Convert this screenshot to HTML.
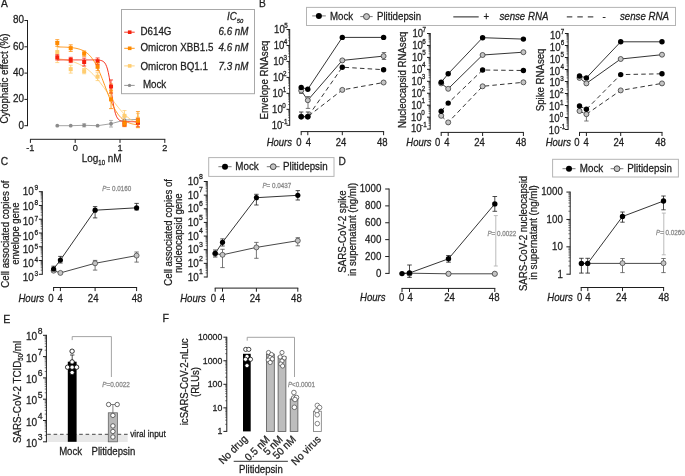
<!DOCTYPE html>
<html><head><meta charset="utf-8"><style>
html,body{margin:0;padding:0;background:#fff;}
svg{display:block;font-family:"Liberation Sans", sans-serif;will-change:transform;}
text{stroke:currentColor;stroke-width:0.25px;}
</style></head><body>
<svg width="685" height="476" viewBox="0 0 685 476">
<rect width="685" height="476" fill="#fff"/>
<text x="1" y="7.2" font-size="10.2" text-anchor="start" fill="#1e1e1e" color="#1e1e1e" transform="translate(1 7.2) scale(1 1.06) translate(-1 -7.2)">A</text>
<rect x="121.5" y="9.5" width="133" height="84.2" fill="none" stroke="#a8a8a8" stroke-width="1"/>
<text x="227" y="19.6" font-size="9.8" text-anchor="start" font-style="italic" fill="#1e1e1e" color="#1e1e1e" transform="translate(227 19.6) scale(1 1.06) translate(-227 -19.6)">IC<tspan font-size="5.8" dy="2.8">50</tspan></text>
<line x1="124.2" y1="32.2" x2="134.7" y2="32.2" stroke="#f5200c" stroke-width="0.9" stroke-linecap="butt"/>
<rect x="127.9" y="30.4" width="3.6" height="3.6" fill="#f5200c" stroke="none" stroke-width="1"/>
<text x="140.5" y="35.5" font-size="9.8" text-anchor="start" fill="#1e1e1e" color="#1e1e1e" transform="translate(140.5 35.5) scale(1 1.06) translate(-140.5 -35.5)">D614G</text>
<text x="248.4" y="35.5" font-size="9.8" text-anchor="end" font-style="italic" fill="#1e1e1e" color="#1e1e1e" transform="translate(248.4 35.5) scale(1 1.06) translate(-248.4 -35.5)">6.6 nM</text>
<line x1="124.2" y1="48.3" x2="134.7" y2="48.3" stroke="#ff8a00" stroke-width="0.9" stroke-linecap="butt"/>
<rect x="127.9" y="46.5" width="3.6" height="3.6" fill="#ff8a00" stroke="none" stroke-width="1"/>
<text x="140.5" y="51.4" font-size="9.8" text-anchor="start" fill="#1e1e1e" color="#1e1e1e" transform="translate(140.5 51.4) scale(1 1.06) translate(-140.5 -51.4)">Omicron XBB1.5</text>
<text x="248.4" y="51.4" font-size="9.8" text-anchor="end" font-style="italic" fill="#1e1e1e" color="#1e1e1e" transform="translate(248.4 51.4) scale(1 1.06) translate(-248.4 -51.4)">4.6 nM</text>
<line x1="124.2" y1="65.9" x2="134.7" y2="65.9" stroke="#ffcd70" stroke-width="0.9" stroke-linecap="butt"/>
<rect x="127.9" y="64.1" width="3.6" height="3.6" fill="#ffcd70" stroke="none" stroke-width="1"/>
<text x="140.5" y="69.6" font-size="9.8" text-anchor="start" fill="#1e1e1e" color="#1e1e1e" transform="translate(140.5 69.6) scale(1 1.06) translate(-140.5 -69.6)">Omicron BQ1.1</text>
<text x="248.4" y="69.6" font-size="9.8" text-anchor="end" font-style="italic" fill="#1e1e1e" color="#1e1e1e" transform="translate(248.4 69.6) scale(1 1.06) translate(-248.4 -69.6)">7.3 nM</text>
<line x1="124.2" y1="85.4" x2="134.7" y2="85.4" stroke="#8c8c8c" stroke-width="0.9" stroke-linecap="butt"/>
<circle cx="129.5" cy="85.4" r="1.7" fill="#8c8c8c" stroke="none" stroke-width="0"/>
<text x="142.9" y="88.3" font-size="9.8" text-anchor="start" fill="#1e1e1e" color="#1e1e1e" transform="translate(142.9 88.3) scale(1 1.06) translate(-142.9 -88.3)">Mock</text>
<line x1="27.5" y1="20" x2="27.5" y2="126.2" stroke="#1e1e1e" stroke-width="1" stroke-linecap="butt"/>
<line x1="24.4" y1="125.7" x2="27.5" y2="125.7" stroke="#1e1e1e" stroke-width="1" stroke-linecap="butt"/>
<text x="23.9" y="128.7" font-size="9.9" text-anchor="end" fill="#1e1e1e" color="#1e1e1e" transform="translate(23.9 128.7) scale(1 1.06) translate(-23.9 -128.7)">0</text>
<line x1="24.4" y1="99.4" x2="27.5" y2="99.4" stroke="#1e1e1e" stroke-width="1" stroke-linecap="butt"/>
<text x="23.9" y="102.4" font-size="9.9" text-anchor="end" fill="#1e1e1e" color="#1e1e1e" transform="translate(23.9 102.4) scale(1 1.06) translate(-23.9 -102.4)">20</text>
<line x1="24.4" y1="73.1" x2="27.5" y2="73.1" stroke="#1e1e1e" stroke-width="1" stroke-linecap="butt"/>
<text x="23.9" y="76.1" font-size="9.9" text-anchor="end" fill="#1e1e1e" color="#1e1e1e" transform="translate(23.9 76.1) scale(1 1.06) translate(-23.9 -76.1)">40</text>
<line x1="24.4" y1="46.8" x2="27.5" y2="46.8" stroke="#1e1e1e" stroke-width="1" stroke-linecap="butt"/>
<text x="23.9" y="49.8" font-size="9.9" text-anchor="end" fill="#1e1e1e" color="#1e1e1e" transform="translate(23.9 49.8) scale(1 1.06) translate(-23.9 -49.8)">60</text>
<line x1="24.4" y1="20.5" x2="27.5" y2="20.5" stroke="#1e1e1e" stroke-width="1" stroke-linecap="butt"/>
<text x="23.9" y="23.5" font-size="9.9" text-anchor="end" fill="#1e1e1e" color="#1e1e1e" transform="translate(23.9 23.5) scale(1 1.06) translate(-23.9 -23.5)">80</text>
<line x1="30" y1="139.3" x2="165.3" y2="139.3" stroke="#1e1e1e" stroke-width="1" stroke-linecap="butt"/>
<line x1="30.4" y1="139.3" x2="30.4" y2="142.9" stroke="#1e1e1e" stroke-width="1" stroke-linecap="butt"/>
<text x="30.4" y="151.3" font-size="9.2" text-anchor="middle" fill="#1e1e1e" color="#1e1e1e" transform="translate(30.4 151.3) scale(1 1.06) translate(-30.4 -151.3)">-1</text>
<line x1="75.2" y1="139.3" x2="75.2" y2="142.9" stroke="#1e1e1e" stroke-width="1" stroke-linecap="butt"/>
<text x="75.2" y="151.3" font-size="9.2" text-anchor="middle" fill="#1e1e1e" color="#1e1e1e" transform="translate(75.2 151.3) scale(1 1.06) translate(-75.2 -151.3)">0</text>
<line x1="120" y1="139.3" x2="120" y2="142.9" stroke="#1e1e1e" stroke-width="1" stroke-linecap="butt"/>
<text x="120" y="151.3" font-size="9.2" text-anchor="middle" fill="#1e1e1e" color="#1e1e1e" transform="translate(120 151.3) scale(1 1.06) translate(-120 -151.3)">1</text>
<line x1="164.8" y1="139.3" x2="164.8" y2="142.9" stroke="#1e1e1e" stroke-width="1" stroke-linecap="butt"/>
<text x="164.8" y="151.3" font-size="9.2" text-anchor="middle" fill="#1e1e1e" color="#1e1e1e" transform="translate(164.8 151.3) scale(1 1.06) translate(-164.8 -151.3)">2</text>
<text x="81.7" y="162" font-size="10" text-anchor="start" fill="#1e1e1e" color="#1e1e1e" transform="translate(81.7 162) scale(1 1.06) translate(-81.7 -162)">Log<tspan font-size="6" dy="3.1">10</tspan><tspan dy="-3.1"> nM</tspan></text>
<text x="7.8" y="78.55" font-size="9.72" text-anchor="middle" fill="#1e1e1e" color="#1e1e1e" transform="rotate(-90 7.8 78.55) translate(7.8 78.55) scale(1 1.06) translate(-7.8 -78.55)">Cytophatic effect (%)</text>
<polyline points="57.28,125.7 70.72,125.7 84.16,125.31 97.6,125.7 111.04,123.73 124.48,120.05 137.92,119.39" fill="none" stroke="#8c8c8c" stroke-width="0.8" stroke-linejoin="round"/>
<line x1="84.16" y1="123.73" x2="84.16" y2="126.88" stroke="#a0a0a0" stroke-width="0.8" stroke-linecap="butt"/>
<line x1="82.16" y1="123.73" x2="86.16" y2="123.73" stroke="#a0a0a0" stroke-width="0.8" stroke-linecap="butt"/>
<line x1="82.16" y1="126.88" x2="86.16" y2="126.88" stroke="#a0a0a0" stroke-width="0.8" stroke-linecap="butt"/>
<line x1="111.04" y1="120.44" x2="111.04" y2="127.02" stroke="#a0a0a0" stroke-width="0.8" stroke-linecap="butt"/>
<line x1="109.04" y1="120.44" x2="113.04" y2="120.44" stroke="#a0a0a0" stroke-width="0.8" stroke-linecap="butt"/>
<line x1="109.04" y1="127.02" x2="113.04" y2="127.02" stroke="#a0a0a0" stroke-width="0.8" stroke-linecap="butt"/>
<line x1="124.48" y1="116.76" x2="124.48" y2="123.33" stroke="#a0a0a0" stroke-width="0.8" stroke-linecap="butt"/>
<line x1="122.48" y1="116.76" x2="126.48" y2="116.76" stroke="#a0a0a0" stroke-width="0.8" stroke-linecap="butt"/>
<line x1="122.48" y1="123.33" x2="126.48" y2="123.33" stroke="#a0a0a0" stroke-width="0.8" stroke-linecap="butt"/>
<line x1="137.92" y1="117.42" x2="137.92" y2="121.36" stroke="#a0a0a0" stroke-width="0.8" stroke-linecap="butt"/>
<line x1="135.92" y1="117.42" x2="139.92" y2="117.42" stroke="#a0a0a0" stroke-width="0.8" stroke-linecap="butt"/>
<line x1="135.92" y1="121.36" x2="139.92" y2="121.36" stroke="#a0a0a0" stroke-width="0.8" stroke-linecap="butt"/>
<circle cx="57.28" cy="125.7" r="1.9" fill="#8c8c8c" stroke="none" stroke-width="0"/>
<circle cx="70.72" cy="125.7" r="1.9" fill="#8c8c8c" stroke="none" stroke-width="0"/>
<circle cx="84.16" cy="125.31" r="1.9" fill="#8c8c8c" stroke="none" stroke-width="0"/>
<circle cx="97.6" cy="125.7" r="1.9" fill="#8c8c8c" stroke="none" stroke-width="0"/>
<circle cx="111.04" cy="123.73" r="1.9" fill="#8c8c8c" stroke="none" stroke-width="0"/>
<circle cx="124.48" cy="120.05" r="1.9" fill="#8c8c8c" stroke="none" stroke-width="0"/>
<circle cx="137.92" cy="119.39" r="1.9" fill="#8c8c8c" stroke="none" stroke-width="0"/>
<polyline points="57.28,58.76 58.18,58.85 59.07,58.95 59.97,59.06 60.86,59.17 61.76,59.29 62.66,59.42 63.55,59.56 64.45,59.71 65.34,59.87 66.24,60.04 67.14,60.22 68.03,60.42 68.93,60.62 69.82,60.84 70.72,61.08 71.62,61.33 72.51,61.59 73.41,61.87 74.3,62.18 75.2,62.5 76.1,62.84 76.99,63.2 77.89,63.58 78.78,63.98 79.68,64.41 80.58,64.87 81.47,65.35 82.37,65.86 83.26,66.4 84.16,66.96 85.06,67.56 85.95,68.18 86.85,68.84 87.74,69.53 88.64,70.26 89.54,71.02 90.43,71.81 91.33,72.64 92.22,73.5 93.12,74.39 94.02,75.32 94.91,76.29 95.81,77.29 96.7,78.32 97.6,79.38 98.5,80.47 99.39,81.59 100.29,82.73 101.18,83.91 102.08,85.1 102.98,86.31 103.87,87.55 104.77,88.79 105.66,90.05 106.56,91.32 107.46,92.6 108.35,93.88 109.25,95.16 110.14,96.43 111.04,97.7 111.94,98.96 112.83,100.21 113.73,101.44 114.62,102.65 115.52,103.85 116.42,105.02 117.31,106.17 118.21,107.29 119.1,108.38 120,109.44 120.9,110.47 121.79,111.47 122.69,112.43 123.58,113.36 124.48,114.26 125.38,115.12 126.27,115.94 127.17,116.74 128.06,117.49 128.96,118.22 129.86,118.91 130.75,119.57 131.65,120.2 132.54,120.79 133.44,121.36 134.34,121.89 135.23,122.4 136.13,122.88 137.02,123.34 137.92,123.77" fill="none" stroke="#ffcd70" stroke-width="0.9" stroke-linejoin="round"/>
<polyline points="57.28,59.91 58.18,59.91 59.07,59.91 59.97,59.91 60.86,59.91 61.76,59.91 62.66,59.91 63.55,59.91 64.45,59.91 65.34,59.91 66.24,59.91 67.14,59.91 68.03,59.91 68.93,59.91 69.82,59.91 70.72,59.91 71.62,59.91 72.51,59.91 73.41,59.91 74.3,59.91 75.2,59.91 76.1,59.91 76.99,59.91 77.89,59.91 78.78,59.91 79.68,59.91 80.58,59.91 81.47,59.91 82.37,59.91 83.26,59.91 84.16,59.91 85.06,59.91 85.95,59.91 86.85,59.91 87.74,59.91 88.64,59.91 89.54,59.91 90.43,59.92 91.33,59.92 92.22,59.92 93.12,59.93 94.02,59.93 94.91,59.95 95.81,59.96 96.7,59.99 97.6,60.03 98.5,60.09 99.39,60.18 100.29,60.32 101.18,60.52 102.08,60.82 102.98,61.27 103.87,61.93 104.77,62.9 105.66,64.3 106.56,66.29 107.46,69.02 108.35,72.67 109.25,77.29 110.14,82.8 111.04,88.92 111.94,95.19 112.83,101.11 113.73,106.29 114.62,110.52 115.52,113.79 116.42,116.2 117.31,117.93 118.21,119.14 119.1,119.98 120,120.54 120.9,120.93 121.79,121.18 122.69,121.36 123.58,121.47 124.48,121.55 125.38,121.6 126.27,121.63 127.17,121.66 128.06,121.67 128.96,121.68 129.86,121.69 130.75,121.69 131.65,121.7 132.54,121.7 133.44,121.7 134.34,121.7 135.23,121.7 136.13,121.7 137.02,121.7 137.92,121.7" fill="none" stroke="#f5200c" stroke-width="0.9" stroke-linejoin="round"/>
<polyline points="57.28,46.92 58.18,46.94 59.07,46.95 59.97,46.97 60.86,47 61.76,47.02 62.66,47.05 63.55,47.08 64.45,47.12 65.34,47.16 66.24,47.2 67.14,47.26 68.03,47.31 68.93,47.38 69.82,47.46 70.72,47.54 71.62,47.63 72.51,47.74 73.41,47.86 74.3,48 75.2,48.15 76.1,48.32 76.99,48.51 77.89,48.73 78.78,48.97 79.68,49.24 80.58,49.54 81.47,49.88 82.37,50.27 83.26,50.69 84.16,51.17 85.06,51.7 85.95,52.29 86.85,52.94 87.74,53.67 88.64,54.47 89.54,55.35 90.43,56.32 91.33,57.39 92.22,58.55 93.12,59.82 94.02,61.2 94.91,62.69 95.81,64.29 96.7,66 97.6,67.82 98.5,69.75 99.39,71.78 100.29,73.9 101.18,76.1 102.08,78.38 102.98,80.71 103.87,83.08 104.77,85.48 105.66,87.88 106.56,90.27 107.46,92.63 108.35,94.94 109.25,97.2 110.14,99.38 111.04,101.47 111.94,103.47 112.83,105.37 113.73,107.16 114.62,108.84 115.52,110.4 116.42,111.86 117.31,113.2 118.21,114.44 119.1,115.57 120,116.61 120.9,117.56 121.79,118.41 122.69,119.19 123.58,119.89 124.48,120.53 125.38,121.1 126.27,121.61 127.17,122.07 128.06,122.48 128.96,122.85 129.86,123.18 130.75,123.48 131.65,123.74 132.54,123.97 133.44,124.18 134.34,124.37 135.23,124.53 136.13,124.68 137.02,124.81 137.92,124.92" fill="none" stroke="#ff8a00" stroke-width="0.9" stroke-linejoin="round"/>
<line x1="57.28" y1="41.54" x2="57.28" y2="62.58" stroke="#ffcd70" stroke-width="0.8" stroke-linecap="butt"/>
<line x1="55.28" y1="41.54" x2="59.28" y2="41.54" stroke="#ffcd70" stroke-width="0.8" stroke-linecap="butt"/>
<line x1="55.28" y1="62.58" x2="59.28" y2="62.58" stroke="#ffcd70" stroke-width="0.8" stroke-linecap="butt"/>
<rect x="55.28" y="50.06" width="4" height="4" fill="#ffcd70" stroke="none" stroke-width="1"/>
<line x1="70.72" y1="65.21" x2="70.72" y2="73.1" stroke="#ffcd70" stroke-width="0.8" stroke-linecap="butt"/>
<line x1="68.72" y1="65.21" x2="72.72" y2="65.21" stroke="#ffcd70" stroke-width="0.8" stroke-linecap="butt"/>
<line x1="68.72" y1="73.1" x2="72.72" y2="73.1" stroke="#ffcd70" stroke-width="0.8" stroke-linecap="butt"/>
<rect x="68.72" y="67.16" width="4" height="4" fill="#ffcd70" stroke="none" stroke-width="1"/>
<line x1="84.16" y1="68.5" x2="84.16" y2="73.76" stroke="#ffcd70" stroke-width="0.8" stroke-linecap="butt"/>
<line x1="82.16" y1="68.5" x2="86.16" y2="68.5" stroke="#ffcd70" stroke-width="0.8" stroke-linecap="butt"/>
<line x1="82.16" y1="73.76" x2="86.16" y2="73.76" stroke="#ffcd70" stroke-width="0.8" stroke-linecap="butt"/>
<rect x="82.16" y="69.13" width="4" height="4" fill="#ffcd70" stroke="none" stroke-width="1"/>
<line x1="97.6" y1="72.71" x2="97.6" y2="80.6" stroke="#ffcd70" stroke-width="0.8" stroke-linecap="butt"/>
<line x1="95.6" y1="72.71" x2="99.6" y2="72.71" stroke="#ffcd70" stroke-width="0.8" stroke-linecap="butt"/>
<line x1="95.6" y1="80.6" x2="99.6" y2="80.6" stroke="#ffcd70" stroke-width="0.8" stroke-linecap="butt"/>
<rect x="95.6" y="74.65" width="4" height="4" fill="#ffcd70" stroke="none" stroke-width="1"/>
<line x1="111.04" y1="83.62" x2="111.04" y2="99.4" stroke="#ffcd70" stroke-width="0.8" stroke-linecap="butt"/>
<line x1="109.04" y1="83.62" x2="113.04" y2="83.62" stroke="#ffcd70" stroke-width="0.8" stroke-linecap="butt"/>
<line x1="109.04" y1="99.4" x2="113.04" y2="99.4" stroke="#ffcd70" stroke-width="0.8" stroke-linecap="butt"/>
<rect x="109.04" y="89.51" width="4" height="4" fill="#ffcd70" stroke="none" stroke-width="1"/>
<line x1="124.48" y1="110.58" x2="124.48" y2="121.1" stroke="#ffcd70" stroke-width="0.8" stroke-linecap="butt"/>
<line x1="122.48" y1="110.58" x2="126.48" y2="110.58" stroke="#ffcd70" stroke-width="0.8" stroke-linecap="butt"/>
<line x1="122.48" y1="121.1" x2="126.48" y2="121.1" stroke="#ffcd70" stroke-width="0.8" stroke-linecap="butt"/>
<rect x="122.48" y="113.84" width="4" height="4" fill="#ffcd70" stroke="none" stroke-width="1"/>
<line x1="137.92" y1="113.6" x2="137.92" y2="124.12" stroke="#ffcd70" stroke-width="0.8" stroke-linecap="butt"/>
<line x1="135.92" y1="113.6" x2="139.92" y2="113.6" stroke="#ffcd70" stroke-width="0.8" stroke-linecap="butt"/>
<line x1="135.92" y1="124.12" x2="139.92" y2="124.12" stroke="#ffcd70" stroke-width="0.8" stroke-linecap="butt"/>
<rect x="135.92" y="116.86" width="4" height="4" fill="#ffcd70" stroke="none" stroke-width="1"/>
<line x1="57.28" y1="54.69" x2="57.28" y2="59.95" stroke="#f5200c" stroke-width="0.8" stroke-linecap="butt"/>
<line x1="55.28" y1="54.69" x2="59.28" y2="54.69" stroke="#f5200c" stroke-width="0.8" stroke-linecap="butt"/>
<line x1="55.28" y1="59.95" x2="59.28" y2="59.95" stroke="#f5200c" stroke-width="0.8" stroke-linecap="butt"/>
<rect x="55.28" y="55.32" width="4" height="4" fill="#f5200c" stroke="none" stroke-width="1"/>
<line x1="70.72" y1="57.32" x2="70.72" y2="62.58" stroke="#f5200c" stroke-width="0.8" stroke-linecap="butt"/>
<line x1="68.72" y1="57.32" x2="72.72" y2="57.32" stroke="#f5200c" stroke-width="0.8" stroke-linecap="butt"/>
<line x1="68.72" y1="62.58" x2="72.72" y2="62.58" stroke="#f5200c" stroke-width="0.8" stroke-linecap="butt"/>
<rect x="68.72" y="57.95" width="4" height="4" fill="#f5200c" stroke="none" stroke-width="1"/>
<line x1="84.16" y1="58.11" x2="84.16" y2="66" stroke="#f5200c" stroke-width="0.8" stroke-linecap="butt"/>
<line x1="82.16" y1="58.11" x2="86.16" y2="58.11" stroke="#f5200c" stroke-width="0.8" stroke-linecap="butt"/>
<line x1="82.16" y1="66" x2="86.16" y2="66" stroke="#f5200c" stroke-width="0.8" stroke-linecap="butt"/>
<rect x="82.16" y="60.05" width="4" height="4" fill="#f5200c" stroke="none" stroke-width="1"/>
<line x1="97.6" y1="57.98" x2="97.6" y2="64.55" stroke="#f5200c" stroke-width="0.8" stroke-linecap="butt"/>
<line x1="95.6" y1="57.98" x2="99.6" y2="57.98" stroke="#f5200c" stroke-width="0.8" stroke-linecap="butt"/>
<line x1="95.6" y1="64.55" x2="99.6" y2="64.55" stroke="#f5200c" stroke-width="0.8" stroke-linecap="butt"/>
<rect x="95.6" y="59.27" width="4" height="4" fill="#f5200c" stroke="none" stroke-width="1"/>
<line x1="111.04" y1="79.94" x2="111.04" y2="93.09" stroke="#f5200c" stroke-width="0.8" stroke-linecap="butt"/>
<line x1="109.04" y1="79.94" x2="113.04" y2="79.94" stroke="#f5200c" stroke-width="0.8" stroke-linecap="butt"/>
<line x1="109.04" y1="93.09" x2="113.04" y2="93.09" stroke="#f5200c" stroke-width="0.8" stroke-linecap="butt"/>
<rect x="109.04" y="84.51" width="4" height="4" fill="#f5200c" stroke="none" stroke-width="1"/>
<line x1="124.48" y1="121.36" x2="124.48" y2="126.62" stroke="#f5200c" stroke-width="0.8" stroke-linecap="butt"/>
<line x1="122.48" y1="121.36" x2="126.48" y2="121.36" stroke="#f5200c" stroke-width="0.8" stroke-linecap="butt"/>
<line x1="122.48" y1="126.62" x2="126.48" y2="126.62" stroke="#f5200c" stroke-width="0.8" stroke-linecap="butt"/>
<rect x="122.48" y="121.99" width="4" height="4" fill="#f5200c" stroke="none" stroke-width="1"/>
<line x1="137.92" y1="118.86" x2="137.92" y2="126.75" stroke="#f5200c" stroke-width="0.8" stroke-linecap="butt"/>
<line x1="135.92" y1="118.86" x2="139.92" y2="118.86" stroke="#f5200c" stroke-width="0.8" stroke-linecap="butt"/>
<line x1="135.92" y1="126.75" x2="139.92" y2="126.75" stroke="#f5200c" stroke-width="0.8" stroke-linecap="butt"/>
<rect x="135.92" y="120.81" width="4" height="4" fill="#f5200c" stroke="none" stroke-width="1"/>
<line x1="57.28" y1="39.7" x2="57.28" y2="46.27" stroke="#ff8a00" stroke-width="0.8" stroke-linecap="butt"/>
<line x1="55.28" y1="39.7" x2="59.28" y2="39.7" stroke="#ff8a00" stroke-width="0.8" stroke-linecap="butt"/>
<line x1="55.28" y1="46.27" x2="59.28" y2="46.27" stroke="#ff8a00" stroke-width="0.8" stroke-linecap="butt"/>
<rect x="55.28" y="40.99" width="4" height="4" fill="#ff8a00" stroke="none" stroke-width="1"/>
<line x1="70.72" y1="44.83" x2="70.72" y2="51.4" stroke="#ff8a00" stroke-width="0.8" stroke-linecap="butt"/>
<line x1="68.72" y1="44.83" x2="72.72" y2="44.83" stroke="#ff8a00" stroke-width="0.8" stroke-linecap="butt"/>
<line x1="68.72" y1="51.4" x2="72.72" y2="51.4" stroke="#ff8a00" stroke-width="0.8" stroke-linecap="butt"/>
<rect x="68.72" y="46.12" width="4" height="4" fill="#ff8a00" stroke="none" stroke-width="1"/>
<line x1="84.16" y1="51.01" x2="84.16" y2="56.27" stroke="#ff8a00" stroke-width="0.8" stroke-linecap="butt"/>
<line x1="82.16" y1="51.01" x2="86.16" y2="51.01" stroke="#ff8a00" stroke-width="0.8" stroke-linecap="butt"/>
<line x1="82.16" y1="56.27" x2="86.16" y2="56.27" stroke="#ff8a00" stroke-width="0.8" stroke-linecap="butt"/>
<rect x="82.16" y="51.64" width="4" height="4" fill="#ff8a00" stroke="none" stroke-width="1"/>
<line x1="97.6" y1="62.84" x2="97.6" y2="70.73" stroke="#ff8a00" stroke-width="0.8" stroke-linecap="butt"/>
<line x1="95.6" y1="62.84" x2="99.6" y2="62.84" stroke="#ff8a00" stroke-width="0.8" stroke-linecap="butt"/>
<line x1="95.6" y1="70.73" x2="99.6" y2="70.73" stroke="#ff8a00" stroke-width="0.8" stroke-linecap="butt"/>
<rect x="95.6" y="64.79" width="4" height="4" fill="#ff8a00" stroke="none" stroke-width="1"/>
<line x1="111.04" y1="90.2" x2="111.04" y2="108.61" stroke="#ff8a00" stroke-width="0.8" stroke-linecap="butt"/>
<line x1="109.04" y1="90.2" x2="113.04" y2="90.2" stroke="#ff8a00" stroke-width="0.8" stroke-linecap="butt"/>
<line x1="109.04" y1="108.61" x2="113.04" y2="108.61" stroke="#ff8a00" stroke-width="0.8" stroke-linecap="butt"/>
<rect x="109.04" y="97.4" width="4" height="4" fill="#ff8a00" stroke="none" stroke-width="1"/>
<line x1="124.48" y1="121.1" x2="124.48" y2="126.36" stroke="#ff8a00" stroke-width="0.8" stroke-linecap="butt"/>
<line x1="122.48" y1="121.1" x2="126.48" y2="121.1" stroke="#ff8a00" stroke-width="0.8" stroke-linecap="butt"/>
<line x1="122.48" y1="126.36" x2="126.48" y2="126.36" stroke="#ff8a00" stroke-width="0.8" stroke-linecap="butt"/>
<rect x="122.48" y="121.73" width="4" height="4" fill="#ff8a00" stroke="none" stroke-width="1"/>
<line x1="137.92" y1="111.63" x2="137.92" y2="127.67" stroke="#ff8a00" stroke-width="0.8" stroke-linecap="butt"/>
<line x1="135.92" y1="111.63" x2="139.92" y2="111.63" stroke="#ff8a00" stroke-width="0.8" stroke-linecap="butt"/>
<line x1="135.92" y1="127.67" x2="139.92" y2="127.67" stroke="#ff8a00" stroke-width="0.8" stroke-linecap="butt"/>
<rect x="135.92" y="118.83" width="4" height="4" fill="#ff8a00" stroke="none" stroke-width="1"/>
<text x="259" y="7.1" font-size="10.2" text-anchor="start" fill="#1e1e1e" color="#1e1e1e" transform="translate(259 7.1) scale(1 1.06) translate(-259 -7.1)">B</text>
<rect x="306.5" y="7.4" width="369" height="18.1" fill="none" stroke="#b4b4b4" stroke-width="1"/>
<line x1="312.2" y1="15.9" x2="325.8" y2="15.9" stroke="#555" stroke-width="0.8" stroke-linecap="butt"/>
<circle cx="318.9" cy="15.9" r="3" fill="#000" stroke="#000" stroke-width="0"/>
<text x="330" y="19.6" font-size="9.7" text-anchor="start" fill="#1e1e1e" color="#1e1e1e" transform="translate(330 19.6) scale(1 1.06) translate(-330 -19.6)">Mock</text>
<line x1="360.3" y1="16.6" x2="372.7" y2="16.6" stroke="#555" stroke-width="0.8" stroke-linecap="butt"/>
<circle cx="366.5" cy="16.6" r="3" fill="#c4c4c4" stroke="#3a3a3a" stroke-width="0.9"/>
<text x="377" y="19.6" font-size="9.7" text-anchor="start" fill="#1e1e1e" color="#1e1e1e" transform="translate(377 19.6) scale(1 1.06) translate(-377 -19.6)">Plitidepsin</text>
<line x1="453.3" y1="16.9" x2="478.7" y2="16.9" stroke="#1e1e1e" stroke-width="1" stroke-linecap="butt"/>
<text x="486.2" y="19.8" font-size="9.6" text-anchor="middle" fill="#1e1e1e" color="#1e1e1e" transform="translate(486.2 19.8) scale(1 1.06) translate(-486.2 -19.8)">+</text>
<text x="499.4" y="19.8" font-size="9.7" text-anchor="start" font-style="italic" fill="#1e1e1e" color="#1e1e1e" transform="translate(499.4 19.8) scale(1 1.06) translate(-499.4 -19.8)">sense RNA</text>
<line x1="566.8" y1="16.9" x2="595.2" y2="16.9" stroke="#1e1e1e" stroke-width="1" stroke-dasharray="5.5,5" stroke-linecap="butt"/>
<text x="604.1" y="19.8" font-size="9.6" text-anchor="middle" fill="#1e1e1e" color="#1e1e1e" transform="translate(604.1 19.8) scale(1 1.06) translate(-604.1 -19.8)">-</text>
<text x="620" y="19.8" font-size="9.7" text-anchor="start" font-style="italic" fill="#1e1e1e" color="#1e1e1e" transform="translate(620 19.8) scale(1 1.06) translate(-620 -19.8)">sense RNA</text>
<line x1="289.7" y1="29" x2="289.7" y2="125.8" stroke="#1e1e1e" stroke-width="1" stroke-linecap="butt"/>
<line x1="286.5" y1="29.5" x2="289.7" y2="29.5" stroke="#1e1e1e" stroke-width="1" stroke-linecap="butt"/>
<text x="274.1" y="33.5" font-size="9.6" text-anchor="start" fill="#1e1e1e" color="#1e1e1e" transform="translate(274.1 33.5) scale(1 1.06) translate(-274.1 -33.5)">10<tspan dx="-0.5" dy="-5.0" font-size="6.3">5</tspan></text>
<line x1="288.1" y1="40.66" x2="289.7" y2="40.66" stroke="#1e1e1e" stroke-width="0.6" stroke-linecap="butt"/>
<line x1="288.1" y1="37.85" x2="289.7" y2="37.85" stroke="#1e1e1e" stroke-width="0.6" stroke-linecap="butt"/>
<line x1="288.1" y1="35.85" x2="289.7" y2="35.85" stroke="#1e1e1e" stroke-width="0.6" stroke-linecap="butt"/>
<line x1="288.1" y1="34.31" x2="289.7" y2="34.31" stroke="#1e1e1e" stroke-width="0.6" stroke-linecap="butt"/>
<line x1="288.1" y1="33.04" x2="289.7" y2="33.04" stroke="#1e1e1e" stroke-width="0.6" stroke-linecap="butt"/>
<line x1="288.1" y1="31.97" x2="289.7" y2="31.97" stroke="#1e1e1e" stroke-width="0.6" stroke-linecap="butt"/>
<line x1="288.1" y1="31.05" x2="289.7" y2="31.05" stroke="#1e1e1e" stroke-width="0.6" stroke-linecap="butt"/>
<line x1="288.1" y1="30.23" x2="289.7" y2="30.23" stroke="#1e1e1e" stroke-width="0.6" stroke-linecap="butt"/>
<line x1="286.5" y1="45.47" x2="289.7" y2="45.47" stroke="#1e1e1e" stroke-width="1" stroke-linecap="butt"/>
<text x="273.7" y="49.47" font-size="9.6" text-anchor="start" fill="#1e1e1e" color="#1e1e1e" transform="translate(273.7 49.47) scale(1 1.06) translate(-273.7 -49.47)">10<tspan dx="-0.5" dy="-5.0" font-size="6.3">4</tspan></text>
<line x1="288.1" y1="56.63" x2="289.7" y2="56.63" stroke="#1e1e1e" stroke-width="0.6" stroke-linecap="butt"/>
<line x1="288.1" y1="53.82" x2="289.7" y2="53.82" stroke="#1e1e1e" stroke-width="0.6" stroke-linecap="butt"/>
<line x1="288.1" y1="51.82" x2="289.7" y2="51.82" stroke="#1e1e1e" stroke-width="0.6" stroke-linecap="butt"/>
<line x1="288.1" y1="50.27" x2="289.7" y2="50.27" stroke="#1e1e1e" stroke-width="0.6" stroke-linecap="butt"/>
<line x1="288.1" y1="49.01" x2="289.7" y2="49.01" stroke="#1e1e1e" stroke-width="0.6" stroke-linecap="butt"/>
<line x1="288.1" y1="47.94" x2="289.7" y2="47.94" stroke="#1e1e1e" stroke-width="0.6" stroke-linecap="butt"/>
<line x1="288.1" y1="47.01" x2="289.7" y2="47.01" stroke="#1e1e1e" stroke-width="0.6" stroke-linecap="butt"/>
<line x1="288.1" y1="46.2" x2="289.7" y2="46.2" stroke="#1e1e1e" stroke-width="0.6" stroke-linecap="butt"/>
<line x1="286.5" y1="61.43" x2="289.7" y2="61.43" stroke="#1e1e1e" stroke-width="1" stroke-linecap="butt"/>
<text x="273.3" y="65.43" font-size="9.6" text-anchor="start" fill="#1e1e1e" color="#1e1e1e" transform="translate(273.3 65.43) scale(1 1.06) translate(-273.3 -65.43)">10<tspan dx="-0.5" dy="-5.0" font-size="6.3">3</tspan></text>
<line x1="288.1" y1="72.59" x2="289.7" y2="72.59" stroke="#1e1e1e" stroke-width="0.6" stroke-linecap="butt"/>
<line x1="288.1" y1="69.78" x2="289.7" y2="69.78" stroke="#1e1e1e" stroke-width="0.6" stroke-linecap="butt"/>
<line x1="288.1" y1="67.79" x2="289.7" y2="67.79" stroke="#1e1e1e" stroke-width="0.6" stroke-linecap="butt"/>
<line x1="288.1" y1="66.24" x2="289.7" y2="66.24" stroke="#1e1e1e" stroke-width="0.6" stroke-linecap="butt"/>
<line x1="288.1" y1="64.98" x2="289.7" y2="64.98" stroke="#1e1e1e" stroke-width="0.6" stroke-linecap="butt"/>
<line x1="288.1" y1="63.91" x2="289.7" y2="63.91" stroke="#1e1e1e" stroke-width="0.6" stroke-linecap="butt"/>
<line x1="288.1" y1="62.98" x2="289.7" y2="62.98" stroke="#1e1e1e" stroke-width="0.6" stroke-linecap="butt"/>
<line x1="288.1" y1="62.16" x2="289.7" y2="62.16" stroke="#1e1e1e" stroke-width="0.6" stroke-linecap="butt"/>
<line x1="286.5" y1="77.4" x2="289.7" y2="77.4" stroke="#1e1e1e" stroke-width="1" stroke-linecap="butt"/>
<text x="272.9" y="81.4" font-size="9.6" text-anchor="start" fill="#1e1e1e" color="#1e1e1e" transform="translate(272.9 81.4) scale(1 1.06) translate(-272.9 -81.4)">10<tspan dx="-0.5" dy="-5.0" font-size="6.3">2</tspan></text>
<line x1="288.1" y1="88.56" x2="289.7" y2="88.56" stroke="#1e1e1e" stroke-width="0.6" stroke-linecap="butt"/>
<line x1="288.1" y1="85.75" x2="289.7" y2="85.75" stroke="#1e1e1e" stroke-width="0.6" stroke-linecap="butt"/>
<line x1="288.1" y1="83.75" x2="289.7" y2="83.75" stroke="#1e1e1e" stroke-width="0.6" stroke-linecap="butt"/>
<line x1="288.1" y1="82.21" x2="289.7" y2="82.21" stroke="#1e1e1e" stroke-width="0.6" stroke-linecap="butt"/>
<line x1="288.1" y1="80.94" x2="289.7" y2="80.94" stroke="#1e1e1e" stroke-width="0.6" stroke-linecap="butt"/>
<line x1="288.1" y1="79.87" x2="289.7" y2="79.87" stroke="#1e1e1e" stroke-width="0.6" stroke-linecap="butt"/>
<line x1="288.1" y1="78.95" x2="289.7" y2="78.95" stroke="#1e1e1e" stroke-width="0.6" stroke-linecap="butt"/>
<line x1="288.1" y1="78.13" x2="289.7" y2="78.13" stroke="#1e1e1e" stroke-width="0.6" stroke-linecap="butt"/>
<line x1="286.5" y1="93.37" x2="289.7" y2="93.37" stroke="#1e1e1e" stroke-width="1" stroke-linecap="butt"/>
<text x="272.5" y="97.37" font-size="9.6" text-anchor="start" fill="#1e1e1e" color="#1e1e1e" transform="translate(272.5 97.37) scale(1 1.06) translate(-272.5 -97.37)">10<tspan dx="-0.5" dy="-5.0" font-size="6.3">1</tspan></text>
<line x1="288.1" y1="104.53" x2="289.7" y2="104.53" stroke="#1e1e1e" stroke-width="0.6" stroke-linecap="butt"/>
<line x1="288.1" y1="101.72" x2="289.7" y2="101.72" stroke="#1e1e1e" stroke-width="0.6" stroke-linecap="butt"/>
<line x1="288.1" y1="99.72" x2="289.7" y2="99.72" stroke="#1e1e1e" stroke-width="0.6" stroke-linecap="butt"/>
<line x1="288.1" y1="98.17" x2="289.7" y2="98.17" stroke="#1e1e1e" stroke-width="0.6" stroke-linecap="butt"/>
<line x1="288.1" y1="96.91" x2="289.7" y2="96.91" stroke="#1e1e1e" stroke-width="0.6" stroke-linecap="butt"/>
<line x1="288.1" y1="95.84" x2="289.7" y2="95.84" stroke="#1e1e1e" stroke-width="0.6" stroke-linecap="butt"/>
<line x1="288.1" y1="94.91" x2="289.7" y2="94.91" stroke="#1e1e1e" stroke-width="0.6" stroke-linecap="butt"/>
<line x1="288.1" y1="94.1" x2="289.7" y2="94.1" stroke="#1e1e1e" stroke-width="0.6" stroke-linecap="butt"/>
<line x1="286.5" y1="109.33" x2="289.7" y2="109.33" stroke="#1e1e1e" stroke-width="1" stroke-linecap="butt"/>
<text x="272.1" y="113.43" font-size="9.6" text-anchor="start" fill="#1e1e1e" color="#1e1e1e" transform="translate(272.1 113.43) scale(1 1.06) translate(-272.1 -113.43)">10<tspan dx="-0.5" dy="-5.0" font-size="6.3">0</tspan></text>
<line x1="288.1" y1="120.49" x2="289.7" y2="120.49" stroke="#1e1e1e" stroke-width="0.6" stroke-linecap="butt"/>
<line x1="288.1" y1="117.68" x2="289.7" y2="117.68" stroke="#1e1e1e" stroke-width="0.6" stroke-linecap="butt"/>
<line x1="288.1" y1="115.69" x2="289.7" y2="115.69" stroke="#1e1e1e" stroke-width="0.6" stroke-linecap="butt"/>
<line x1="288.1" y1="114.14" x2="289.7" y2="114.14" stroke="#1e1e1e" stroke-width="0.6" stroke-linecap="butt"/>
<line x1="288.1" y1="112.88" x2="289.7" y2="112.88" stroke="#1e1e1e" stroke-width="0.6" stroke-linecap="butt"/>
<line x1="288.1" y1="111.81" x2="289.7" y2="111.81" stroke="#1e1e1e" stroke-width="0.6" stroke-linecap="butt"/>
<line x1="288.1" y1="110.88" x2="289.7" y2="110.88" stroke="#1e1e1e" stroke-width="0.6" stroke-linecap="butt"/>
<line x1="288.1" y1="110.06" x2="289.7" y2="110.06" stroke="#1e1e1e" stroke-width="0.6" stroke-linecap="butt"/>
<line x1="286.5" y1="125.3" x2="289.7" y2="125.3" stroke="#1e1e1e" stroke-width="1" stroke-linecap="butt"/>
<text x="271.7" y="129.4" font-size="9.6" text-anchor="start" fill="#1e1e1e" color="#1e1e1e" transform="translate(271.7 129.4) scale(1 1.06) translate(-271.7 -129.4)">10<tspan dx="-0.5" dy="-5.0" font-size="6.3">-1</tspan></text>
<line x1="300.7" y1="131.6" x2="384.1" y2="131.6" stroke="#1e1e1e" stroke-width="1" stroke-linecap="butt"/>
<line x1="301.2" y1="131.6" x2="301.2" y2="135.2" stroke="#1e1e1e" stroke-width="1" stroke-linecap="butt"/>
<line x1="307.8" y1="131.6" x2="307.8" y2="135.2" stroke="#1e1e1e" stroke-width="1" stroke-linecap="butt"/>
<line x1="342.3" y1="131.6" x2="342.3" y2="135.2" stroke="#1e1e1e" stroke-width="1" stroke-linecap="butt"/>
<line x1="383.6" y1="131.6" x2="383.6" y2="135.2" stroke="#1e1e1e" stroke-width="1" stroke-linecap="butt"/>
<text x="299" y="146.4" font-size="9.5" text-anchor="middle" fill="#1e1e1e" color="#1e1e1e" transform="translate(299 146.4) scale(1 1.06) translate(-299 -146.4)">0</text>
<text x="308.5" y="146.4" font-size="9.5" text-anchor="middle" fill="#1e1e1e" color="#1e1e1e" transform="translate(308.5 146.4) scale(1 1.06) translate(-308.5 -146.4)">4</text>
<text x="341.1" y="146.4" font-size="9.5" text-anchor="middle" fill="#1e1e1e" color="#1e1e1e" transform="translate(341.1 146.4) scale(1 1.06) translate(-341.1 -146.4)">24</text>
<text x="382.2" y="146.4" font-size="9.5" text-anchor="middle" fill="#1e1e1e" color="#1e1e1e" transform="translate(382.2 146.4) scale(1 1.06) translate(-382.2 -146.4)">48</text>
<text x="292" y="146.4" font-size="9.5" text-anchor="end" font-style="italic" fill="#1e1e1e" color="#1e1e1e" transform="translate(292 146.4) scale(1 1.06) translate(-292 -146.4)">Hours</text>
<text x="268.3" y="80" font-size="9.65" text-anchor="middle" fill="#1e1e1e" color="#1e1e1e" transform="rotate(-90 268.3 80) translate(268.3 80) scale(1 1.06) translate(-268.3 -80)">Envelope RNAseq</text>
<polyline points="301.2,116.6 307.8,116.6 342.3,89.9 383.6,82.5" fill="none" stroke="#2a2a2a" stroke-width="0.95" stroke-dasharray="4.5,3.2" stroke-linejoin="round"/>
<polyline points="301.2,90.6 307.8,100.2 342.3,60.4 383.6,56.1" fill="none" stroke="#2a2a2a" stroke-width="0.95" stroke-linejoin="round"/>
<polyline points="301.2,116.8 307.8,116.8 342.3,67.2 383.6,69.7" fill="none" stroke="#2a2a2a" stroke-width="0.95" stroke-dasharray="4.5,3.2" stroke-linejoin="round"/>
<polyline points="301.2,87.4 307.8,89.2 342.3,37.4 383.6,37.4" fill="none" stroke="#2a2a2a" stroke-width="0.95" stroke-linejoin="round"/>
<line x1="301.2" y1="93.4" x2="301.2" y2="89" stroke="#444" stroke-width="0.8" stroke-linecap="butt"/>
<line x1="299" y1="93.4" x2="303.4" y2="93.4" stroke="#444" stroke-width="0.8" stroke-linecap="butt"/>
<line x1="299" y1="89" x2="303.4" y2="89" stroke="#444" stroke-width="0.8" stroke-linecap="butt"/>
<line x1="308" y1="96.5" x2="308" y2="108.4" stroke="#555" stroke-width="0.8" stroke-linecap="butt"/>
<line x1="305.8" y1="96.5" x2="310.2" y2="96.5" stroke="#555" stroke-width="0.8" stroke-linecap="butt"/>
<line x1="305.8" y1="108.4" x2="310.2" y2="108.4" stroke="#555" stroke-width="0.8" stroke-linecap="butt"/>
<line x1="301.2" y1="112" x2="301.2" y2="116" stroke="#1e1e1e" stroke-width="0.8" stroke-linecap="butt"/>
<line x1="299" y1="112" x2="303.4" y2="112" stroke="#1e1e1e" stroke-width="0.8" stroke-linecap="butt"/>
<line x1="299" y1="116" x2="303.4" y2="116" stroke="#1e1e1e" stroke-width="0.8" stroke-linecap="butt"/>
<line x1="308" y1="112" x2="308" y2="116" stroke="#1e1e1e" stroke-width="0.8" stroke-linecap="butt"/>
<line x1="305.8" y1="112" x2="310.2" y2="112" stroke="#1e1e1e" stroke-width="0.8" stroke-linecap="butt"/>
<line x1="305.8" y1="116" x2="310.2" y2="116" stroke="#1e1e1e" stroke-width="0.8" stroke-linecap="butt"/>
<line x1="384" y1="52.5" x2="384" y2="59.5" stroke="#555" stroke-width="0.8" stroke-linecap="butt"/>
<line x1="381.8" y1="52.5" x2="386.2" y2="52.5" stroke="#555" stroke-width="0.8" stroke-linecap="butt"/>
<line x1="381.8" y1="59.5" x2="386.2" y2="59.5" stroke="#555" stroke-width="0.8" stroke-linecap="butt"/>
<circle cx="301.2" cy="116.6" r="2.5" fill="#c4c4c4" stroke="#3a3a3a" stroke-width="0.8"/>
<circle cx="307.8" cy="116.6" r="2.5" fill="#c4c4c4" stroke="#3a3a3a" stroke-width="0.8"/>
<circle cx="342.3" cy="89.9" r="2.5" fill="#c4c4c4" stroke="#3a3a3a" stroke-width="0.8"/>
<circle cx="383.6" cy="82.5" r="2.5" fill="#c4c4c4" stroke="#3a3a3a" stroke-width="0.8"/>
<circle cx="301.2" cy="90.6" r="2.5" fill="#c4c4c4" stroke="#3a3a3a" stroke-width="0.8"/>
<circle cx="307.8" cy="100.2" r="2.5" fill="#c4c4c4" stroke="#3a3a3a" stroke-width="0.8"/>
<circle cx="342.3" cy="60.4" r="2.5" fill="#c4c4c4" stroke="#3a3a3a" stroke-width="0.8"/>
<circle cx="383.6" cy="56.1" r="2.5" fill="#c4c4c4" stroke="#3a3a3a" stroke-width="0.8"/>
<circle cx="301.2" cy="116.8" r="2.7" fill="#000" stroke="#000" stroke-width="0"/>
<circle cx="307.8" cy="116.8" r="2.7" fill="#000" stroke="#000" stroke-width="0"/>
<circle cx="342.3" cy="67.2" r="2.7" fill="#000" stroke="#000" stroke-width="0"/>
<circle cx="383.6" cy="69.7" r="2.7" fill="#000" stroke="#000" stroke-width="0"/>
<circle cx="301.2" cy="87.4" r="2.7" fill="#000" stroke="#000" stroke-width="0"/>
<circle cx="307.8" cy="89.2" r="2.7" fill="#000" stroke="#000" stroke-width="0"/>
<circle cx="342.3" cy="37.4" r="2.7" fill="#000" stroke="#000" stroke-width="0"/>
<circle cx="383.6" cy="37.4" r="2.7" fill="#000" stroke="#000" stroke-width="0"/>
<line x1="430.2" y1="33" x2="430.2" y2="129.6" stroke="#1e1e1e" stroke-width="1" stroke-linecap="butt"/>
<line x1="427" y1="33.5" x2="430.2" y2="33.5" stroke="#1e1e1e" stroke-width="1" stroke-linecap="butt"/>
<text x="412.4" y="36.9" font-size="9.6" text-anchor="start" fill="#1e1e1e" color="#1e1e1e" transform="translate(412.4 36.9) scale(1 1.06) translate(-412.4 -36.9)">10<tspan dx="-0.5" dy="-5.0" font-size="6.3">7</tspan></text>
<line x1="428.6" y1="41.85" x2="430.2" y2="41.85" stroke="#1e1e1e" stroke-width="0.6" stroke-linecap="butt"/>
<line x1="428.6" y1="39.75" x2="430.2" y2="39.75" stroke="#1e1e1e" stroke-width="0.6" stroke-linecap="butt"/>
<line x1="428.6" y1="38.26" x2="430.2" y2="38.26" stroke="#1e1e1e" stroke-width="0.6" stroke-linecap="butt"/>
<line x1="428.6" y1="37.1" x2="430.2" y2="37.1" stroke="#1e1e1e" stroke-width="0.6" stroke-linecap="butt"/>
<line x1="428.6" y1="36.15" x2="430.2" y2="36.15" stroke="#1e1e1e" stroke-width="0.6" stroke-linecap="butt"/>
<line x1="428.6" y1="35.35" x2="430.2" y2="35.35" stroke="#1e1e1e" stroke-width="0.6" stroke-linecap="butt"/>
<line x1="428.6" y1="34.66" x2="430.2" y2="34.66" stroke="#1e1e1e" stroke-width="0.6" stroke-linecap="butt"/>
<line x1="428.6" y1="34.05" x2="430.2" y2="34.05" stroke="#1e1e1e" stroke-width="0.6" stroke-linecap="butt"/>
<line x1="427" y1="45.45" x2="430.2" y2="45.45" stroke="#1e1e1e" stroke-width="1" stroke-linecap="butt"/>
<text x="412.2" y="48.85" font-size="9.6" text-anchor="start" fill="#1e1e1e" color="#1e1e1e" transform="translate(412.2 48.85) scale(1 1.06) translate(-412.2 -48.85)">10<tspan dx="-0.5" dy="-5.0" font-size="6.3">6</tspan></text>
<line x1="428.6" y1="53.8" x2="430.2" y2="53.8" stroke="#1e1e1e" stroke-width="0.6" stroke-linecap="butt"/>
<line x1="428.6" y1="51.7" x2="430.2" y2="51.7" stroke="#1e1e1e" stroke-width="0.6" stroke-linecap="butt"/>
<line x1="428.6" y1="50.21" x2="430.2" y2="50.21" stroke="#1e1e1e" stroke-width="0.6" stroke-linecap="butt"/>
<line x1="428.6" y1="49.05" x2="430.2" y2="49.05" stroke="#1e1e1e" stroke-width="0.6" stroke-linecap="butt"/>
<line x1="428.6" y1="48.1" x2="430.2" y2="48.1" stroke="#1e1e1e" stroke-width="0.6" stroke-linecap="butt"/>
<line x1="428.6" y1="47.3" x2="430.2" y2="47.3" stroke="#1e1e1e" stroke-width="0.6" stroke-linecap="butt"/>
<line x1="428.6" y1="46.61" x2="430.2" y2="46.61" stroke="#1e1e1e" stroke-width="0.6" stroke-linecap="butt"/>
<line x1="428.6" y1="46" x2="430.2" y2="46" stroke="#1e1e1e" stroke-width="0.6" stroke-linecap="butt"/>
<line x1="427" y1="57.4" x2="430.2" y2="57.4" stroke="#1e1e1e" stroke-width="1" stroke-linecap="butt"/>
<text x="412" y="60.8" font-size="9.6" text-anchor="start" fill="#1e1e1e" color="#1e1e1e" transform="translate(412 60.8) scale(1 1.06) translate(-412 -60.8)">10<tspan dx="-0.5" dy="-5.0" font-size="6.3">5</tspan></text>
<line x1="428.6" y1="65.75" x2="430.2" y2="65.75" stroke="#1e1e1e" stroke-width="0.6" stroke-linecap="butt"/>
<line x1="428.6" y1="63.65" x2="430.2" y2="63.65" stroke="#1e1e1e" stroke-width="0.6" stroke-linecap="butt"/>
<line x1="428.6" y1="62.16" x2="430.2" y2="62.16" stroke="#1e1e1e" stroke-width="0.6" stroke-linecap="butt"/>
<line x1="428.6" y1="61" x2="430.2" y2="61" stroke="#1e1e1e" stroke-width="0.6" stroke-linecap="butt"/>
<line x1="428.6" y1="60.05" x2="430.2" y2="60.05" stroke="#1e1e1e" stroke-width="0.6" stroke-linecap="butt"/>
<line x1="428.6" y1="59.25" x2="430.2" y2="59.25" stroke="#1e1e1e" stroke-width="0.6" stroke-linecap="butt"/>
<line x1="428.6" y1="58.56" x2="430.2" y2="58.56" stroke="#1e1e1e" stroke-width="0.6" stroke-linecap="butt"/>
<line x1="428.6" y1="57.95" x2="430.2" y2="57.95" stroke="#1e1e1e" stroke-width="0.6" stroke-linecap="butt"/>
<line x1="427" y1="69.35" x2="430.2" y2="69.35" stroke="#1e1e1e" stroke-width="1" stroke-linecap="butt"/>
<text x="411.8" y="72.75" font-size="9.6" text-anchor="start" fill="#1e1e1e" color="#1e1e1e" transform="translate(411.8 72.75) scale(1 1.06) translate(-411.8 -72.75)">10<tspan dx="-0.5" dy="-5.0" font-size="6.3">4</tspan></text>
<line x1="428.6" y1="77.7" x2="430.2" y2="77.7" stroke="#1e1e1e" stroke-width="0.6" stroke-linecap="butt"/>
<line x1="428.6" y1="75.6" x2="430.2" y2="75.6" stroke="#1e1e1e" stroke-width="0.6" stroke-linecap="butt"/>
<line x1="428.6" y1="74.11" x2="430.2" y2="74.11" stroke="#1e1e1e" stroke-width="0.6" stroke-linecap="butt"/>
<line x1="428.6" y1="72.95" x2="430.2" y2="72.95" stroke="#1e1e1e" stroke-width="0.6" stroke-linecap="butt"/>
<line x1="428.6" y1="72" x2="430.2" y2="72" stroke="#1e1e1e" stroke-width="0.6" stroke-linecap="butt"/>
<line x1="428.6" y1="71.2" x2="430.2" y2="71.2" stroke="#1e1e1e" stroke-width="0.6" stroke-linecap="butt"/>
<line x1="428.6" y1="70.51" x2="430.2" y2="70.51" stroke="#1e1e1e" stroke-width="0.6" stroke-linecap="butt"/>
<line x1="428.6" y1="69.9" x2="430.2" y2="69.9" stroke="#1e1e1e" stroke-width="0.6" stroke-linecap="butt"/>
<line x1="427" y1="81.3" x2="430.2" y2="81.3" stroke="#1e1e1e" stroke-width="1" stroke-linecap="butt"/>
<text x="411.6" y="84.7" font-size="9.6" text-anchor="start" fill="#1e1e1e" color="#1e1e1e" transform="translate(411.6 84.7) scale(1 1.06) translate(-411.6 -84.7)">10<tspan dx="-0.5" dy="-5.0" font-size="6.3">3</tspan></text>
<line x1="428.6" y1="89.65" x2="430.2" y2="89.65" stroke="#1e1e1e" stroke-width="0.6" stroke-linecap="butt"/>
<line x1="428.6" y1="87.55" x2="430.2" y2="87.55" stroke="#1e1e1e" stroke-width="0.6" stroke-linecap="butt"/>
<line x1="428.6" y1="86.06" x2="430.2" y2="86.06" stroke="#1e1e1e" stroke-width="0.6" stroke-linecap="butt"/>
<line x1="428.6" y1="84.9" x2="430.2" y2="84.9" stroke="#1e1e1e" stroke-width="0.6" stroke-linecap="butt"/>
<line x1="428.6" y1="83.95" x2="430.2" y2="83.95" stroke="#1e1e1e" stroke-width="0.6" stroke-linecap="butt"/>
<line x1="428.6" y1="83.15" x2="430.2" y2="83.15" stroke="#1e1e1e" stroke-width="0.6" stroke-linecap="butt"/>
<line x1="428.6" y1="82.46" x2="430.2" y2="82.46" stroke="#1e1e1e" stroke-width="0.6" stroke-linecap="butt"/>
<line x1="428.6" y1="81.85" x2="430.2" y2="81.85" stroke="#1e1e1e" stroke-width="0.6" stroke-linecap="butt"/>
<line x1="427" y1="93.25" x2="430.2" y2="93.25" stroke="#1e1e1e" stroke-width="1" stroke-linecap="butt"/>
<text x="411.5" y="96.65" font-size="9.6" text-anchor="start" fill="#1e1e1e" color="#1e1e1e" transform="translate(411.5 96.65) scale(1 1.06) translate(-411.5 -96.65)">10<tspan dx="-0.5" dy="-5.0" font-size="6.3">2</tspan></text>
<line x1="428.6" y1="101.6" x2="430.2" y2="101.6" stroke="#1e1e1e" stroke-width="0.6" stroke-linecap="butt"/>
<line x1="428.6" y1="99.5" x2="430.2" y2="99.5" stroke="#1e1e1e" stroke-width="0.6" stroke-linecap="butt"/>
<line x1="428.6" y1="98.01" x2="430.2" y2="98.01" stroke="#1e1e1e" stroke-width="0.6" stroke-linecap="butt"/>
<line x1="428.6" y1="96.85" x2="430.2" y2="96.85" stroke="#1e1e1e" stroke-width="0.6" stroke-linecap="butt"/>
<line x1="428.6" y1="95.9" x2="430.2" y2="95.9" stroke="#1e1e1e" stroke-width="0.6" stroke-linecap="butt"/>
<line x1="428.6" y1="95.1" x2="430.2" y2="95.1" stroke="#1e1e1e" stroke-width="0.6" stroke-linecap="butt"/>
<line x1="428.6" y1="94.41" x2="430.2" y2="94.41" stroke="#1e1e1e" stroke-width="0.6" stroke-linecap="butt"/>
<line x1="428.6" y1="93.8" x2="430.2" y2="93.8" stroke="#1e1e1e" stroke-width="0.6" stroke-linecap="butt"/>
<line x1="427" y1="105.2" x2="430.2" y2="105.2" stroke="#1e1e1e" stroke-width="1" stroke-linecap="butt"/>
<text x="411.3" y="108.6" font-size="9.6" text-anchor="start" fill="#1e1e1e" color="#1e1e1e" transform="translate(411.3 108.6) scale(1 1.06) translate(-411.3 -108.6)">10<tspan dx="-0.5" dy="-5.0" font-size="6.3">1</tspan></text>
<line x1="428.6" y1="113.55" x2="430.2" y2="113.55" stroke="#1e1e1e" stroke-width="0.6" stroke-linecap="butt"/>
<line x1="428.6" y1="111.45" x2="430.2" y2="111.45" stroke="#1e1e1e" stroke-width="0.6" stroke-linecap="butt"/>
<line x1="428.6" y1="109.96" x2="430.2" y2="109.96" stroke="#1e1e1e" stroke-width="0.6" stroke-linecap="butt"/>
<line x1="428.6" y1="108.8" x2="430.2" y2="108.8" stroke="#1e1e1e" stroke-width="0.6" stroke-linecap="butt"/>
<line x1="428.6" y1="107.85" x2="430.2" y2="107.85" stroke="#1e1e1e" stroke-width="0.6" stroke-linecap="butt"/>
<line x1="428.6" y1="107.05" x2="430.2" y2="107.05" stroke="#1e1e1e" stroke-width="0.6" stroke-linecap="butt"/>
<line x1="428.6" y1="106.36" x2="430.2" y2="106.36" stroke="#1e1e1e" stroke-width="0.6" stroke-linecap="butt"/>
<line x1="428.6" y1="105.75" x2="430.2" y2="105.75" stroke="#1e1e1e" stroke-width="0.6" stroke-linecap="butt"/>
<line x1="427" y1="117.15" x2="430.2" y2="117.15" stroke="#1e1e1e" stroke-width="1" stroke-linecap="butt"/>
<text x="411.1" y="120.55" font-size="9.6" text-anchor="start" fill="#1e1e1e" color="#1e1e1e" transform="translate(411.1 120.55) scale(1 1.06) translate(-411.1 -120.55)">10<tspan dx="-0.5" dy="-5.0" font-size="6.3">0</tspan></text>
<line x1="428.6" y1="125.5" x2="430.2" y2="125.5" stroke="#1e1e1e" stroke-width="0.6" stroke-linecap="butt"/>
<line x1="428.6" y1="123.4" x2="430.2" y2="123.4" stroke="#1e1e1e" stroke-width="0.6" stroke-linecap="butt"/>
<line x1="428.6" y1="121.91" x2="430.2" y2="121.91" stroke="#1e1e1e" stroke-width="0.6" stroke-linecap="butt"/>
<line x1="428.6" y1="120.75" x2="430.2" y2="120.75" stroke="#1e1e1e" stroke-width="0.6" stroke-linecap="butt"/>
<line x1="428.6" y1="119.8" x2="430.2" y2="119.8" stroke="#1e1e1e" stroke-width="0.6" stroke-linecap="butt"/>
<line x1="428.6" y1="119" x2="430.2" y2="119" stroke="#1e1e1e" stroke-width="0.6" stroke-linecap="butt"/>
<line x1="428.6" y1="118.31" x2="430.2" y2="118.31" stroke="#1e1e1e" stroke-width="0.6" stroke-linecap="butt"/>
<line x1="428.6" y1="117.7" x2="430.2" y2="117.7" stroke="#1e1e1e" stroke-width="0.6" stroke-linecap="butt"/>
<line x1="427" y1="129.1" x2="430.2" y2="129.1" stroke="#1e1e1e" stroke-width="1" stroke-linecap="butt"/>
<text x="410.9" y="132.5" font-size="9.6" text-anchor="start" fill="#1e1e1e" color="#1e1e1e" transform="translate(410.9 132.5) scale(1 1.06) translate(-410.9 -132.5)">10<tspan dx="-0.5" dy="-5.0" font-size="6.3">-1</tspan></text>
<line x1="440.7" y1="132.4" x2="523.9" y2="132.4" stroke="#1e1e1e" stroke-width="1" stroke-linecap="butt"/>
<line x1="441.2" y1="132.4" x2="441.2" y2="136" stroke="#1e1e1e" stroke-width="1" stroke-linecap="butt"/>
<line x1="448.2" y1="132.4" x2="448.2" y2="136" stroke="#1e1e1e" stroke-width="1" stroke-linecap="butt"/>
<line x1="482.6" y1="132.4" x2="482.6" y2="136" stroke="#1e1e1e" stroke-width="1" stroke-linecap="butt"/>
<line x1="523.4" y1="132.4" x2="523.4" y2="136" stroke="#1e1e1e" stroke-width="1" stroke-linecap="butt"/>
<text x="437.7" y="146.4" font-size="9.5" text-anchor="middle" fill="#1e1e1e" color="#1e1e1e" transform="translate(437.7 146.4) scale(1 1.06) translate(-437.7 -146.4)">0</text>
<text x="446.8" y="146.4" font-size="9.5" text-anchor="middle" fill="#1e1e1e" color="#1e1e1e" transform="translate(446.8 146.4) scale(1 1.06) translate(-446.8 -146.4)">4</text>
<text x="479.6" y="146.4" font-size="9.5" text-anchor="middle" fill="#1e1e1e" color="#1e1e1e" transform="translate(479.6 146.4) scale(1 1.06) translate(-479.6 -146.4)">24</text>
<text x="521.1" y="146.4" font-size="9.5" text-anchor="middle" fill="#1e1e1e" color="#1e1e1e" transform="translate(521.1 146.4) scale(1 1.06) translate(-521.1 -146.4)">48</text>
<text x="431.6" y="146.4" font-size="9.5" text-anchor="end" font-style="italic" fill="#1e1e1e" color="#1e1e1e" transform="translate(431.6 146.4) scale(1 1.06) translate(-431.6 -146.4)">Hours</text>
<text x="406" y="79.8" font-size="9.65" text-anchor="middle" fill="#1e1e1e" color="#1e1e1e" transform="rotate(-90 406 79.8) translate(406 79.8) scale(1 1.06) translate(-406 -79.8)">Nucleocapsid RNAseq</text>
<polyline points="441.2,115.8 448.2,122.4 482.6,86.3 523.4,82.3" fill="none" stroke="#2a2a2a" stroke-width="0.95" stroke-dasharray="4.5,3.2" stroke-linejoin="round"/>
<polyline points="441.2,83.4 448.2,88.8 482.6,55 523.4,52.2" fill="none" stroke="#2a2a2a" stroke-width="0.95" stroke-linejoin="round"/>
<polyline points="441.2,111.2 448.2,103.1 482.6,70 523.4,70.5" fill="none" stroke="#2a2a2a" stroke-width="0.95" stroke-dasharray="4.5,3.2" stroke-linejoin="round"/>
<polyline points="441.2,82.3 448.2,73.8 482.6,37.7 523.4,39.1" fill="none" stroke="#2a2a2a" stroke-width="0.95" stroke-linejoin="round"/>
<circle cx="441.2" cy="115.8" r="2.5" fill="#c4c4c4" stroke="#3a3a3a" stroke-width="0.8"/>
<circle cx="448.2" cy="122.4" r="2.5" fill="#c4c4c4" stroke="#3a3a3a" stroke-width="0.8"/>
<circle cx="482.6" cy="86.3" r="2.5" fill="#c4c4c4" stroke="#3a3a3a" stroke-width="0.8"/>
<circle cx="523.4" cy="82.3" r="2.5" fill="#c4c4c4" stroke="#3a3a3a" stroke-width="0.8"/>
<circle cx="441.2" cy="83.4" r="2.5" fill="#c4c4c4" stroke="#3a3a3a" stroke-width="0.8"/>
<circle cx="448.2" cy="88.8" r="2.5" fill="#c4c4c4" stroke="#3a3a3a" stroke-width="0.8"/>
<circle cx="482.6" cy="55" r="2.5" fill="#c4c4c4" stroke="#3a3a3a" stroke-width="0.8"/>
<circle cx="523.4" cy="52.2" r="2.5" fill="#c4c4c4" stroke="#3a3a3a" stroke-width="0.8"/>
<circle cx="441.2" cy="111.2" r="2.7" fill="#000" stroke="#000" stroke-width="0"/>
<circle cx="448.2" cy="103.1" r="2.7" fill="#000" stroke="#000" stroke-width="0"/>
<circle cx="482.6" cy="70" r="2.7" fill="#000" stroke="#000" stroke-width="0"/>
<circle cx="523.4" cy="70.5" r="2.7" fill="#000" stroke="#000" stroke-width="0"/>
<circle cx="441.2" cy="82.3" r="2.7" fill="#000" stroke="#000" stroke-width="0"/>
<circle cx="448.2" cy="73.8" r="2.7" fill="#000" stroke="#000" stroke-width="0"/>
<circle cx="482.6" cy="37.7" r="2.7" fill="#000" stroke="#000" stroke-width="0"/>
<circle cx="523.4" cy="39.1" r="2.7" fill="#000" stroke="#000" stroke-width="0"/>
<line x1="568.1" y1="33" x2="568.1" y2="130" stroke="#1e1e1e" stroke-width="1" stroke-linecap="butt"/>
<line x1="564.9" y1="33.5" x2="568.1" y2="33.5" stroke="#1e1e1e" stroke-width="1" stroke-linecap="butt"/>
<text x="550" y="38.9" font-size="9.6" text-anchor="start" fill="#1e1e1e" color="#1e1e1e" transform="translate(550 38.9) scale(1 1.06) translate(-550 -38.9)">10<tspan dx="0.2" dy="-5.0" font-size="6.3">7</tspan></text>
<line x1="566.5" y1="41.89" x2="568.1" y2="41.89" stroke="#1e1e1e" stroke-width="0.6" stroke-linecap="butt"/>
<line x1="566.5" y1="39.77" x2="568.1" y2="39.77" stroke="#1e1e1e" stroke-width="0.6" stroke-linecap="butt"/>
<line x1="566.5" y1="38.28" x2="568.1" y2="38.28" stroke="#1e1e1e" stroke-width="0.6" stroke-linecap="butt"/>
<line x1="566.5" y1="37.11" x2="568.1" y2="37.11" stroke="#1e1e1e" stroke-width="0.6" stroke-linecap="butt"/>
<line x1="566.5" y1="36.16" x2="568.1" y2="36.16" stroke="#1e1e1e" stroke-width="0.6" stroke-linecap="butt"/>
<line x1="566.5" y1="35.36" x2="568.1" y2="35.36" stroke="#1e1e1e" stroke-width="0.6" stroke-linecap="butt"/>
<line x1="566.5" y1="34.66" x2="568.1" y2="34.66" stroke="#1e1e1e" stroke-width="0.6" stroke-linecap="butt"/>
<line x1="566.5" y1="34.05" x2="568.1" y2="34.05" stroke="#1e1e1e" stroke-width="0.6" stroke-linecap="butt"/>
<line x1="564.9" y1="45.5" x2="568.1" y2="45.5" stroke="#1e1e1e" stroke-width="1" stroke-linecap="butt"/>
<text x="549.85" y="50.8" font-size="9.6" text-anchor="start" fill="#1e1e1e" color="#1e1e1e" transform="translate(549.85 50.8) scale(1 1.06) translate(-549.85 -50.8)">10<tspan dx="0.2" dy="-5.0" font-size="6.3">6</tspan></text>
<line x1="566.5" y1="53.89" x2="568.1" y2="53.89" stroke="#1e1e1e" stroke-width="0.6" stroke-linecap="butt"/>
<line x1="566.5" y1="51.77" x2="568.1" y2="51.77" stroke="#1e1e1e" stroke-width="0.6" stroke-linecap="butt"/>
<line x1="566.5" y1="50.28" x2="568.1" y2="50.28" stroke="#1e1e1e" stroke-width="0.6" stroke-linecap="butt"/>
<line x1="566.5" y1="49.11" x2="568.1" y2="49.11" stroke="#1e1e1e" stroke-width="0.6" stroke-linecap="butt"/>
<line x1="566.5" y1="48.16" x2="568.1" y2="48.16" stroke="#1e1e1e" stroke-width="0.6" stroke-linecap="butt"/>
<line x1="566.5" y1="47.36" x2="568.1" y2="47.36" stroke="#1e1e1e" stroke-width="0.6" stroke-linecap="butt"/>
<line x1="566.5" y1="46.66" x2="568.1" y2="46.66" stroke="#1e1e1e" stroke-width="0.6" stroke-linecap="butt"/>
<line x1="566.5" y1="46.05" x2="568.1" y2="46.05" stroke="#1e1e1e" stroke-width="0.6" stroke-linecap="butt"/>
<line x1="564.9" y1="57.5" x2="568.1" y2="57.5" stroke="#1e1e1e" stroke-width="1" stroke-linecap="butt"/>
<text x="549.7" y="62.7" font-size="9.6" text-anchor="start" fill="#1e1e1e" color="#1e1e1e" transform="translate(549.7 62.7) scale(1 1.06) translate(-549.7 -62.7)">10<tspan dx="0.2" dy="-5.0" font-size="6.3">5</tspan></text>
<line x1="566.5" y1="65.89" x2="568.1" y2="65.89" stroke="#1e1e1e" stroke-width="0.6" stroke-linecap="butt"/>
<line x1="566.5" y1="63.77" x2="568.1" y2="63.77" stroke="#1e1e1e" stroke-width="0.6" stroke-linecap="butt"/>
<line x1="566.5" y1="62.28" x2="568.1" y2="62.28" stroke="#1e1e1e" stroke-width="0.6" stroke-linecap="butt"/>
<line x1="566.5" y1="61.11" x2="568.1" y2="61.11" stroke="#1e1e1e" stroke-width="0.6" stroke-linecap="butt"/>
<line x1="566.5" y1="60.16" x2="568.1" y2="60.16" stroke="#1e1e1e" stroke-width="0.6" stroke-linecap="butt"/>
<line x1="566.5" y1="59.36" x2="568.1" y2="59.36" stroke="#1e1e1e" stroke-width="0.6" stroke-linecap="butt"/>
<line x1="566.5" y1="58.66" x2="568.1" y2="58.66" stroke="#1e1e1e" stroke-width="0.6" stroke-linecap="butt"/>
<line x1="566.5" y1="58.05" x2="568.1" y2="58.05" stroke="#1e1e1e" stroke-width="0.6" stroke-linecap="butt"/>
<line x1="564.9" y1="69.5" x2="568.1" y2="69.5" stroke="#1e1e1e" stroke-width="1" stroke-linecap="butt"/>
<text x="549.55" y="74.6" font-size="9.6" text-anchor="start" fill="#1e1e1e" color="#1e1e1e" transform="translate(549.55 74.6) scale(1 1.06) translate(-549.55 -74.6)">10<tspan dx="0.2" dy="-5.0" font-size="6.3">4</tspan></text>
<line x1="566.5" y1="77.89" x2="568.1" y2="77.89" stroke="#1e1e1e" stroke-width="0.6" stroke-linecap="butt"/>
<line x1="566.5" y1="75.77" x2="568.1" y2="75.77" stroke="#1e1e1e" stroke-width="0.6" stroke-linecap="butt"/>
<line x1="566.5" y1="74.28" x2="568.1" y2="74.28" stroke="#1e1e1e" stroke-width="0.6" stroke-linecap="butt"/>
<line x1="566.5" y1="73.11" x2="568.1" y2="73.11" stroke="#1e1e1e" stroke-width="0.6" stroke-linecap="butt"/>
<line x1="566.5" y1="72.16" x2="568.1" y2="72.16" stroke="#1e1e1e" stroke-width="0.6" stroke-linecap="butt"/>
<line x1="566.5" y1="71.36" x2="568.1" y2="71.36" stroke="#1e1e1e" stroke-width="0.6" stroke-linecap="butt"/>
<line x1="566.5" y1="70.66" x2="568.1" y2="70.66" stroke="#1e1e1e" stroke-width="0.6" stroke-linecap="butt"/>
<line x1="566.5" y1="70.05" x2="568.1" y2="70.05" stroke="#1e1e1e" stroke-width="0.6" stroke-linecap="butt"/>
<line x1="564.9" y1="81.5" x2="568.1" y2="81.5" stroke="#1e1e1e" stroke-width="1" stroke-linecap="butt"/>
<text x="549.4" y="86.5" font-size="9.6" text-anchor="start" fill="#1e1e1e" color="#1e1e1e" transform="translate(549.4 86.5) scale(1 1.06) translate(-549.4 -86.5)">10<tspan dx="0.2" dy="-5.0" font-size="6.3">3</tspan></text>
<line x1="566.5" y1="89.89" x2="568.1" y2="89.89" stroke="#1e1e1e" stroke-width="0.6" stroke-linecap="butt"/>
<line x1="566.5" y1="87.77" x2="568.1" y2="87.77" stroke="#1e1e1e" stroke-width="0.6" stroke-linecap="butt"/>
<line x1="566.5" y1="86.28" x2="568.1" y2="86.28" stroke="#1e1e1e" stroke-width="0.6" stroke-linecap="butt"/>
<line x1="566.5" y1="85.11" x2="568.1" y2="85.11" stroke="#1e1e1e" stroke-width="0.6" stroke-linecap="butt"/>
<line x1="566.5" y1="84.16" x2="568.1" y2="84.16" stroke="#1e1e1e" stroke-width="0.6" stroke-linecap="butt"/>
<line x1="566.5" y1="83.36" x2="568.1" y2="83.36" stroke="#1e1e1e" stroke-width="0.6" stroke-linecap="butt"/>
<line x1="566.5" y1="82.66" x2="568.1" y2="82.66" stroke="#1e1e1e" stroke-width="0.6" stroke-linecap="butt"/>
<line x1="566.5" y1="82.05" x2="568.1" y2="82.05" stroke="#1e1e1e" stroke-width="0.6" stroke-linecap="butt"/>
<line x1="564.9" y1="93.5" x2="568.1" y2="93.5" stroke="#1e1e1e" stroke-width="1" stroke-linecap="butt"/>
<text x="549.25" y="98.4" font-size="9.6" text-anchor="start" fill="#1e1e1e" color="#1e1e1e" transform="translate(549.25 98.4) scale(1 1.06) translate(-549.25 -98.4)">10<tspan dx="0.2" dy="-5.0" font-size="6.3">2</tspan></text>
<line x1="566.5" y1="101.89" x2="568.1" y2="101.89" stroke="#1e1e1e" stroke-width="0.6" stroke-linecap="butt"/>
<line x1="566.5" y1="99.77" x2="568.1" y2="99.77" stroke="#1e1e1e" stroke-width="0.6" stroke-linecap="butt"/>
<line x1="566.5" y1="98.28" x2="568.1" y2="98.28" stroke="#1e1e1e" stroke-width="0.6" stroke-linecap="butt"/>
<line x1="566.5" y1="97.11" x2="568.1" y2="97.11" stroke="#1e1e1e" stroke-width="0.6" stroke-linecap="butt"/>
<line x1="566.5" y1="96.16" x2="568.1" y2="96.16" stroke="#1e1e1e" stroke-width="0.6" stroke-linecap="butt"/>
<line x1="566.5" y1="95.36" x2="568.1" y2="95.36" stroke="#1e1e1e" stroke-width="0.6" stroke-linecap="butt"/>
<line x1="566.5" y1="94.66" x2="568.1" y2="94.66" stroke="#1e1e1e" stroke-width="0.6" stroke-linecap="butt"/>
<line x1="566.5" y1="94.05" x2="568.1" y2="94.05" stroke="#1e1e1e" stroke-width="0.6" stroke-linecap="butt"/>
<line x1="564.9" y1="105.5" x2="568.1" y2="105.5" stroke="#1e1e1e" stroke-width="1" stroke-linecap="butt"/>
<text x="549.1" y="110.3" font-size="9.6" text-anchor="start" fill="#1e1e1e" color="#1e1e1e" transform="translate(549.1 110.3) scale(1 1.06) translate(-549.1 -110.3)">10<tspan dx="0.2" dy="-5.0" font-size="6.3">1</tspan></text>
<line x1="566.5" y1="113.89" x2="568.1" y2="113.89" stroke="#1e1e1e" stroke-width="0.6" stroke-linecap="butt"/>
<line x1="566.5" y1="111.77" x2="568.1" y2="111.77" stroke="#1e1e1e" stroke-width="0.6" stroke-linecap="butt"/>
<line x1="566.5" y1="110.28" x2="568.1" y2="110.28" stroke="#1e1e1e" stroke-width="0.6" stroke-linecap="butt"/>
<line x1="566.5" y1="109.11" x2="568.1" y2="109.11" stroke="#1e1e1e" stroke-width="0.6" stroke-linecap="butt"/>
<line x1="566.5" y1="108.16" x2="568.1" y2="108.16" stroke="#1e1e1e" stroke-width="0.6" stroke-linecap="butt"/>
<line x1="566.5" y1="107.36" x2="568.1" y2="107.36" stroke="#1e1e1e" stroke-width="0.6" stroke-linecap="butt"/>
<line x1="566.5" y1="106.66" x2="568.1" y2="106.66" stroke="#1e1e1e" stroke-width="0.6" stroke-linecap="butt"/>
<line x1="566.5" y1="106.05" x2="568.1" y2="106.05" stroke="#1e1e1e" stroke-width="0.6" stroke-linecap="butt"/>
<line x1="564.9" y1="117.5" x2="568.1" y2="117.5" stroke="#1e1e1e" stroke-width="1" stroke-linecap="butt"/>
<text x="548.95" y="122.2" font-size="9.6" text-anchor="start" fill="#1e1e1e" color="#1e1e1e" transform="translate(548.95 122.2) scale(1 1.06) translate(-548.95 -122.2)">10<tspan dx="0.2" dy="-5.0" font-size="6.3">0</tspan></text>
<line x1="566.5" y1="125.89" x2="568.1" y2="125.89" stroke="#1e1e1e" stroke-width="0.6" stroke-linecap="butt"/>
<line x1="566.5" y1="123.77" x2="568.1" y2="123.77" stroke="#1e1e1e" stroke-width="0.6" stroke-linecap="butt"/>
<line x1="566.5" y1="122.28" x2="568.1" y2="122.28" stroke="#1e1e1e" stroke-width="0.6" stroke-linecap="butt"/>
<line x1="566.5" y1="121.11" x2="568.1" y2="121.11" stroke="#1e1e1e" stroke-width="0.6" stroke-linecap="butt"/>
<line x1="566.5" y1="120.16" x2="568.1" y2="120.16" stroke="#1e1e1e" stroke-width="0.6" stroke-linecap="butt"/>
<line x1="566.5" y1="119.36" x2="568.1" y2="119.36" stroke="#1e1e1e" stroke-width="0.6" stroke-linecap="butt"/>
<line x1="566.5" y1="118.66" x2="568.1" y2="118.66" stroke="#1e1e1e" stroke-width="0.6" stroke-linecap="butt"/>
<line x1="566.5" y1="118.05" x2="568.1" y2="118.05" stroke="#1e1e1e" stroke-width="0.6" stroke-linecap="butt"/>
<line x1="564.9" y1="129.5" x2="568.1" y2="129.5" stroke="#1e1e1e" stroke-width="1" stroke-linecap="butt"/>
<text x="548.8" y="134.1" font-size="9.6" text-anchor="start" fill="#1e1e1e" color="#1e1e1e" transform="translate(548.8 134.1) scale(1 1.06) translate(-548.8 -134.1)">10<tspan dx="0.2" dy="-5.0" font-size="6.3">-1</tspan></text>
<line x1="579" y1="132.4" x2="662.5" y2="132.4" stroke="#1e1e1e" stroke-width="1" stroke-linecap="butt"/>
<line x1="579.5" y1="132.4" x2="579.5" y2="136" stroke="#1e1e1e" stroke-width="1" stroke-linecap="butt"/>
<line x1="586.4" y1="132.4" x2="586.4" y2="136" stroke="#1e1e1e" stroke-width="1" stroke-linecap="butt"/>
<line x1="620.7" y1="132.4" x2="620.7" y2="136" stroke="#1e1e1e" stroke-width="1" stroke-linecap="butt"/>
<line x1="662" y1="132.4" x2="662" y2="136" stroke="#1e1e1e" stroke-width="1" stroke-linecap="butt"/>
<text x="577" y="146.4" font-size="9.5" text-anchor="middle" fill="#1e1e1e" color="#1e1e1e" transform="translate(577 146.4) scale(1 1.06) translate(-577 -146.4)">0</text>
<text x="586.2" y="146.4" font-size="9.5" text-anchor="middle" fill="#1e1e1e" color="#1e1e1e" transform="translate(586.2 146.4) scale(1 1.06) translate(-586.2 -146.4)">4</text>
<text x="618.8" y="146.4" font-size="9.5" text-anchor="middle" fill="#1e1e1e" color="#1e1e1e" transform="translate(618.8 146.4) scale(1 1.06) translate(-618.8 -146.4)">24</text>
<text x="660.5" y="146.4" font-size="9.5" text-anchor="middle" fill="#1e1e1e" color="#1e1e1e" transform="translate(660.5 146.4) scale(1 1.06) translate(-660.5 -146.4)">48</text>
<text x="571" y="146.4" font-size="9.5" text-anchor="end" font-style="italic" fill="#1e1e1e" color="#1e1e1e" transform="translate(571 146.4) scale(1 1.06) translate(-571 -146.4)">Hours</text>
<text x="544.2" y="79.9" font-size="9.65" text-anchor="middle" fill="#1e1e1e" color="#1e1e1e" transform="rotate(-90 544.2 79.9) translate(544.2 79.9) scale(1 1.06) translate(-544.2 -79.9)">Spike RNAseq</text>
<polyline points="579.5,111 586.4,114.2 620.7,90.4 662,83.4" fill="none" stroke="#2a2a2a" stroke-width="0.95" stroke-dasharray="4.5,3.2" stroke-linejoin="round"/>
<polyline points="579.5,77.9 586.4,83.4 620.7,59 662,54.7" fill="none" stroke="#2a2a2a" stroke-width="0.95" stroke-linejoin="round"/>
<polyline points="579.5,106 586.4,109.3 620.7,74.6 662,73.8" fill="none" stroke="#2a2a2a" stroke-width="0.95" stroke-dasharray="4.5,3.2" stroke-linejoin="round"/>
<polyline points="579.5,76 586.4,77.9 620.7,41.8 662,41.8" fill="none" stroke="#2a2a2a" stroke-width="0.95" stroke-linejoin="round"/>
<line x1="586.4" y1="110" x2="586.4" y2="121" stroke="#555" stroke-width="0.8" stroke-linecap="butt"/>
<line x1="584.2" y1="110" x2="588.6" y2="110" stroke="#555" stroke-width="0.8" stroke-linecap="butt"/>
<line x1="584.2" y1="121" x2="588.6" y2="121" stroke="#555" stroke-width="0.8" stroke-linecap="butt"/>
<circle cx="579.5" cy="111" r="2.5" fill="#c4c4c4" stroke="#3a3a3a" stroke-width="0.8"/>
<circle cx="586.4" cy="114.2" r="2.5" fill="#c4c4c4" stroke="#3a3a3a" stroke-width="0.8"/>
<circle cx="620.7" cy="90.4" r="2.5" fill="#c4c4c4" stroke="#3a3a3a" stroke-width="0.8"/>
<circle cx="662" cy="83.4" r="2.5" fill="#c4c4c4" stroke="#3a3a3a" stroke-width="0.8"/>
<circle cx="579.5" cy="77.9" r="2.5" fill="#c4c4c4" stroke="#3a3a3a" stroke-width="0.8"/>
<circle cx="586.4" cy="83.4" r="2.5" fill="#c4c4c4" stroke="#3a3a3a" stroke-width="0.8"/>
<circle cx="620.7" cy="59" r="2.5" fill="#c4c4c4" stroke="#3a3a3a" stroke-width="0.8"/>
<circle cx="662" cy="54.7" r="2.5" fill="#c4c4c4" stroke="#3a3a3a" stroke-width="0.8"/>
<circle cx="579.5" cy="106" r="2.7" fill="#000" stroke="#000" stroke-width="0"/>
<circle cx="586.4" cy="109.3" r="2.7" fill="#000" stroke="#000" stroke-width="0"/>
<circle cx="620.7" cy="74.6" r="2.7" fill="#000" stroke="#000" stroke-width="0"/>
<circle cx="662" cy="73.8" r="2.7" fill="#000" stroke="#000" stroke-width="0"/>
<circle cx="579.5" cy="76" r="2.7" fill="#000" stroke="#000" stroke-width="0"/>
<circle cx="586.4" cy="77.9" r="2.7" fill="#000" stroke="#000" stroke-width="0"/>
<circle cx="620.7" cy="41.8" r="2.7" fill="#000" stroke="#000" stroke-width="0"/>
<circle cx="662" cy="41.8" r="2.7" fill="#000" stroke="#000" stroke-width="0"/>
<text x="0.8" y="165.5" font-size="10.2" text-anchor="start" fill="#1e1e1e" color="#1e1e1e" transform="translate(0.8 165.5) scale(1 1.06) translate(-0.8 -165.5)">C</text>
<line x1="42.3" y1="191.2" x2="42.3" y2="274.8" stroke="#1e1e1e" stroke-width="1" stroke-linecap="butt"/>
<line x1="38.9" y1="191.7" x2="42.3" y2="191.7" stroke="#1e1e1e" stroke-width="1" stroke-linecap="butt"/>
<text x="22.7" y="194.6" font-size="9.9" text-anchor="start" fill="#1e1e1e" color="#1e1e1e" transform="translate(22.7 194.6) scale(1 1.06) translate(-22.7 -194.6)">10<tspan dx="0.8" dy="-4.4" font-size="6.6">9</tspan></text>
<line x1="40.7" y1="201.32" x2="42.3" y2="201.32" stroke="#1e1e1e" stroke-width="0.6" stroke-linecap="butt"/>
<line x1="40.7" y1="198.9" x2="42.3" y2="198.9" stroke="#1e1e1e" stroke-width="0.6" stroke-linecap="butt"/>
<line x1="40.7" y1="197.18" x2="42.3" y2="197.18" stroke="#1e1e1e" stroke-width="0.6" stroke-linecap="butt"/>
<line x1="40.7" y1="195.84" x2="42.3" y2="195.84" stroke="#1e1e1e" stroke-width="0.6" stroke-linecap="butt"/>
<line x1="40.7" y1="194.75" x2="42.3" y2="194.75" stroke="#1e1e1e" stroke-width="0.6" stroke-linecap="butt"/>
<line x1="40.7" y1="193.83" x2="42.3" y2="193.83" stroke="#1e1e1e" stroke-width="0.6" stroke-linecap="butt"/>
<line x1="40.7" y1="193.03" x2="42.3" y2="193.03" stroke="#1e1e1e" stroke-width="0.6" stroke-linecap="butt"/>
<line x1="40.7" y1="192.33" x2="42.3" y2="192.33" stroke="#1e1e1e" stroke-width="0.6" stroke-linecap="butt"/>
<line x1="38.9" y1="205.47" x2="42.3" y2="205.47" stroke="#1e1e1e" stroke-width="1" stroke-linecap="butt"/>
<text x="22.7" y="209.77" font-size="9.9" text-anchor="start" fill="#1e1e1e" color="#1e1e1e" transform="translate(22.7 209.77) scale(1 1.06) translate(-22.7 -209.77)">10<tspan dx="0.8" dy="-4.4" font-size="6.6">8</tspan></text>
<line x1="40.7" y1="215.09" x2="42.3" y2="215.09" stroke="#1e1e1e" stroke-width="0.6" stroke-linecap="butt"/>
<line x1="40.7" y1="212.66" x2="42.3" y2="212.66" stroke="#1e1e1e" stroke-width="0.6" stroke-linecap="butt"/>
<line x1="40.7" y1="210.94" x2="42.3" y2="210.94" stroke="#1e1e1e" stroke-width="0.6" stroke-linecap="butt"/>
<line x1="40.7" y1="209.61" x2="42.3" y2="209.61" stroke="#1e1e1e" stroke-width="0.6" stroke-linecap="butt"/>
<line x1="40.7" y1="208.52" x2="42.3" y2="208.52" stroke="#1e1e1e" stroke-width="0.6" stroke-linecap="butt"/>
<line x1="40.7" y1="207.6" x2="42.3" y2="207.6" stroke="#1e1e1e" stroke-width="0.6" stroke-linecap="butt"/>
<line x1="40.7" y1="206.8" x2="42.3" y2="206.8" stroke="#1e1e1e" stroke-width="0.6" stroke-linecap="butt"/>
<line x1="40.7" y1="206.1" x2="42.3" y2="206.1" stroke="#1e1e1e" stroke-width="0.6" stroke-linecap="butt"/>
<line x1="38.9" y1="219.23" x2="42.3" y2="219.23" stroke="#1e1e1e" stroke-width="1" stroke-linecap="butt"/>
<text x="22.7" y="225.33" font-size="9.9" text-anchor="start" fill="#1e1e1e" color="#1e1e1e" transform="translate(22.7 225.33) scale(1 1.06) translate(-22.7 -225.33)">10<tspan dx="0.8" dy="-4.4" font-size="6.6">7</tspan></text>
<line x1="40.7" y1="228.86" x2="42.3" y2="228.86" stroke="#1e1e1e" stroke-width="0.6" stroke-linecap="butt"/>
<line x1="40.7" y1="226.43" x2="42.3" y2="226.43" stroke="#1e1e1e" stroke-width="0.6" stroke-linecap="butt"/>
<line x1="40.7" y1="224.71" x2="42.3" y2="224.71" stroke="#1e1e1e" stroke-width="0.6" stroke-linecap="butt"/>
<line x1="40.7" y1="223.38" x2="42.3" y2="223.38" stroke="#1e1e1e" stroke-width="0.6" stroke-linecap="butt"/>
<line x1="40.7" y1="222.29" x2="42.3" y2="222.29" stroke="#1e1e1e" stroke-width="0.6" stroke-linecap="butt"/>
<line x1="40.7" y1="221.37" x2="42.3" y2="221.37" stroke="#1e1e1e" stroke-width="0.6" stroke-linecap="butt"/>
<line x1="40.7" y1="220.57" x2="42.3" y2="220.57" stroke="#1e1e1e" stroke-width="0.6" stroke-linecap="butt"/>
<line x1="40.7" y1="219.86" x2="42.3" y2="219.86" stroke="#1e1e1e" stroke-width="0.6" stroke-linecap="butt"/>
<line x1="38.9" y1="233" x2="42.3" y2="233" stroke="#1e1e1e" stroke-width="1" stroke-linecap="butt"/>
<text x="22.7" y="239.7" font-size="9.9" text-anchor="start" fill="#1e1e1e" color="#1e1e1e" transform="translate(22.7 239.7) scale(1 1.06) translate(-22.7 -239.7)">10<tspan dx="0.8" dy="-4.4" font-size="6.6">6</tspan></text>
<line x1="40.7" y1="242.62" x2="42.3" y2="242.62" stroke="#1e1e1e" stroke-width="0.6" stroke-linecap="butt"/>
<line x1="40.7" y1="240.2" x2="42.3" y2="240.2" stroke="#1e1e1e" stroke-width="0.6" stroke-linecap="butt"/>
<line x1="40.7" y1="238.48" x2="42.3" y2="238.48" stroke="#1e1e1e" stroke-width="0.6" stroke-linecap="butt"/>
<line x1="40.7" y1="237.14" x2="42.3" y2="237.14" stroke="#1e1e1e" stroke-width="0.6" stroke-linecap="butt"/>
<line x1="40.7" y1="236.05" x2="42.3" y2="236.05" stroke="#1e1e1e" stroke-width="0.6" stroke-linecap="butt"/>
<line x1="40.7" y1="235.13" x2="42.3" y2="235.13" stroke="#1e1e1e" stroke-width="0.6" stroke-linecap="butt"/>
<line x1="40.7" y1="234.33" x2="42.3" y2="234.33" stroke="#1e1e1e" stroke-width="0.6" stroke-linecap="butt"/>
<line x1="40.7" y1="233.63" x2="42.3" y2="233.63" stroke="#1e1e1e" stroke-width="0.6" stroke-linecap="butt"/>
<line x1="38.9" y1="246.77" x2="42.3" y2="246.77" stroke="#1e1e1e" stroke-width="1" stroke-linecap="butt"/>
<text x="22.7" y="253.47" font-size="9.9" text-anchor="start" fill="#1e1e1e" color="#1e1e1e" transform="translate(22.7 253.47) scale(1 1.06) translate(-22.7 -253.47)">10<tspan dx="0.8" dy="-4.4" font-size="6.6">5</tspan></text>
<line x1="40.7" y1="256.39" x2="42.3" y2="256.39" stroke="#1e1e1e" stroke-width="0.6" stroke-linecap="butt"/>
<line x1="40.7" y1="253.96" x2="42.3" y2="253.96" stroke="#1e1e1e" stroke-width="0.6" stroke-linecap="butt"/>
<line x1="40.7" y1="252.24" x2="42.3" y2="252.24" stroke="#1e1e1e" stroke-width="0.6" stroke-linecap="butt"/>
<line x1="40.7" y1="250.91" x2="42.3" y2="250.91" stroke="#1e1e1e" stroke-width="0.6" stroke-linecap="butt"/>
<line x1="40.7" y1="249.82" x2="42.3" y2="249.82" stroke="#1e1e1e" stroke-width="0.6" stroke-linecap="butt"/>
<line x1="40.7" y1="248.9" x2="42.3" y2="248.9" stroke="#1e1e1e" stroke-width="0.6" stroke-linecap="butt"/>
<line x1="40.7" y1="248.1" x2="42.3" y2="248.1" stroke="#1e1e1e" stroke-width="0.6" stroke-linecap="butt"/>
<line x1="40.7" y1="247.4" x2="42.3" y2="247.4" stroke="#1e1e1e" stroke-width="0.6" stroke-linecap="butt"/>
<line x1="38.9" y1="260.53" x2="42.3" y2="260.53" stroke="#1e1e1e" stroke-width="1" stroke-linecap="butt"/>
<text x="22.7" y="266.93" font-size="9.9" text-anchor="start" fill="#1e1e1e" color="#1e1e1e" transform="translate(22.7 266.93) scale(1 1.06) translate(-22.7 -266.93)">10<tspan dx="0.8" dy="-4.4" font-size="6.6">4</tspan></text>
<line x1="40.7" y1="270.16" x2="42.3" y2="270.16" stroke="#1e1e1e" stroke-width="0.6" stroke-linecap="butt"/>
<line x1="40.7" y1="267.73" x2="42.3" y2="267.73" stroke="#1e1e1e" stroke-width="0.6" stroke-linecap="butt"/>
<line x1="40.7" y1="266.01" x2="42.3" y2="266.01" stroke="#1e1e1e" stroke-width="0.6" stroke-linecap="butt"/>
<line x1="40.7" y1="264.68" x2="42.3" y2="264.68" stroke="#1e1e1e" stroke-width="0.6" stroke-linecap="butt"/>
<line x1="40.7" y1="263.59" x2="42.3" y2="263.59" stroke="#1e1e1e" stroke-width="0.6" stroke-linecap="butt"/>
<line x1="40.7" y1="262.67" x2="42.3" y2="262.67" stroke="#1e1e1e" stroke-width="0.6" stroke-linecap="butt"/>
<line x1="40.7" y1="261.87" x2="42.3" y2="261.87" stroke="#1e1e1e" stroke-width="0.6" stroke-linecap="butt"/>
<line x1="40.7" y1="261.16" x2="42.3" y2="261.16" stroke="#1e1e1e" stroke-width="0.6" stroke-linecap="butt"/>
<line x1="38.9" y1="274.3" x2="42.3" y2="274.3" stroke="#1e1e1e" stroke-width="1" stroke-linecap="butt"/>
<text x="22.7" y="280.7" font-size="9.9" text-anchor="start" fill="#1e1e1e" color="#1e1e1e" transform="translate(22.7 280.7) scale(1 1.06) translate(-22.7 -280.7)">10<tspan dx="0.8" dy="-4.4" font-size="6.6">3</tspan></text>
<line x1="53.1" y1="287.5" x2="137.1" y2="287.5" stroke="#1e1e1e" stroke-width="1" stroke-linecap="butt"/>
<line x1="53.6" y1="287.5" x2="53.6" y2="291.1" stroke="#1e1e1e" stroke-width="1" stroke-linecap="butt"/>
<line x1="60.4" y1="287.5" x2="60.4" y2="291.1" stroke="#1e1e1e" stroke-width="1" stroke-linecap="butt"/>
<line x1="95.1" y1="287.5" x2="95.1" y2="291.1" stroke="#1e1e1e" stroke-width="1" stroke-linecap="butt"/>
<line x1="136.6" y1="287.5" x2="136.6" y2="291.1" stroke="#1e1e1e" stroke-width="1" stroke-linecap="butt"/>
<text x="50.8" y="301.8" font-size="9.6" text-anchor="middle" fill="#1e1e1e" color="#1e1e1e" transform="translate(50.8 301.8) scale(1 1.06) translate(-50.8 -301.8)">0</text>
<text x="60.1" y="301.8" font-size="9.6" text-anchor="middle" fill="#1e1e1e" color="#1e1e1e" transform="translate(60.1 301.8) scale(1 1.06) translate(-60.1 -301.8)">4</text>
<text x="93.2" y="301.8" font-size="9.6" text-anchor="middle" fill="#1e1e1e" color="#1e1e1e" transform="translate(93.2 301.8) scale(1 1.06) translate(-93.2 -301.8)">24</text>
<text x="137" y="301.8" font-size="9.6" text-anchor="middle" fill="#1e1e1e" color="#1e1e1e" transform="translate(137 301.8) scale(1 1.06) translate(-137 -301.8)">48</text>
<text x="44" y="301.8" font-size="9.6" text-anchor="end" font-style="italic" fill="#1e1e1e" color="#1e1e1e" transform="translate(44 301.8) scale(1 1.06) translate(-44 -301.8)">Hours</text>
<polyline points="53.6,270.7 60.4,272.9 95.1,263.3 136.6,255.6" fill="none" stroke="#333" stroke-width="0.9" stroke-linejoin="round"/>
<polyline points="53.6,269 60.4,260 95.1,210.2 136.6,207.8" fill="none" stroke="#1e1e1e" stroke-width="0.9" stroke-linejoin="round"/>
<line x1="95.1" y1="260.4" x2="95.1" y2="270.1" stroke="#555" stroke-width="0.8" stroke-linecap="butt"/>
<line x1="92.9" y1="260.4" x2="97.3" y2="260.4" stroke="#555" stroke-width="0.8" stroke-linecap="butt"/>
<line x1="92.9" y1="270.1" x2="97.3" y2="270.1" stroke="#555" stroke-width="0.8" stroke-linecap="butt"/>
<line x1="136.6" y1="252" x2="136.6" y2="262.1" stroke="#555" stroke-width="0.8" stroke-linecap="butt"/>
<line x1="134.4" y1="252" x2="138.8" y2="252" stroke="#555" stroke-width="0.8" stroke-linecap="butt"/>
<line x1="134.4" y1="262.1" x2="138.8" y2="262.1" stroke="#555" stroke-width="0.8" stroke-linecap="butt"/>
<line x1="53.6" y1="266.2" x2="53.6" y2="271" stroke="#1e1e1e" stroke-width="0.8" stroke-linecap="butt"/>
<line x1="51.4" y1="266.2" x2="55.8" y2="266.2" stroke="#1e1e1e" stroke-width="0.8" stroke-linecap="butt"/>
<line x1="51.4" y1="271" x2="55.8" y2="271" stroke="#1e1e1e" stroke-width="0.8" stroke-linecap="butt"/>
<line x1="60.4" y1="256.4" x2="60.4" y2="263" stroke="#1e1e1e" stroke-width="0.8" stroke-linecap="butt"/>
<line x1="58.2" y1="256.4" x2="62.6" y2="256.4" stroke="#1e1e1e" stroke-width="0.8" stroke-linecap="butt"/>
<line x1="58.2" y1="263" x2="62.6" y2="263" stroke="#1e1e1e" stroke-width="0.8" stroke-linecap="butt"/>
<line x1="95.1" y1="206.6" x2="95.1" y2="217.9" stroke="#1e1e1e" stroke-width="0.8" stroke-linecap="butt"/>
<line x1="92.9" y1="206.6" x2="97.3" y2="206.6" stroke="#1e1e1e" stroke-width="0.8" stroke-linecap="butt"/>
<line x1="92.9" y1="217.9" x2="97.3" y2="217.9" stroke="#1e1e1e" stroke-width="0.8" stroke-linecap="butt"/>
<line x1="136.6" y1="203.4" x2="136.6" y2="210" stroke="#1e1e1e" stroke-width="0.8" stroke-linecap="butt"/>
<line x1="134.4" y1="203.4" x2="138.8" y2="203.4" stroke="#1e1e1e" stroke-width="0.8" stroke-linecap="butt"/>
<line x1="134.4" y1="210" x2="138.8" y2="210" stroke="#1e1e1e" stroke-width="0.8" stroke-linecap="butt"/>
<circle cx="53.6" cy="270.7" r="2.5" fill="#c4c4c4" stroke="#3a3a3a" stroke-width="0.7"/>
<circle cx="60.4" cy="272.9" r="2.5" fill="#c4c4c4" stroke="#3a3a3a" stroke-width="0.7"/>
<circle cx="95.1" cy="263.3" r="2.5" fill="#c4c4c4" stroke="#3a3a3a" stroke-width="0.7"/>
<circle cx="136.6" cy="255.6" r="2.5" fill="#c4c4c4" stroke="#3a3a3a" stroke-width="0.7"/>
<circle cx="53.6" cy="269" r="2.6" fill="#000" stroke="#000" stroke-width="0"/>
<circle cx="60.4" cy="260" r="2.6" fill="#000" stroke="#000" stroke-width="0"/>
<circle cx="95.1" cy="210.2" r="2.6" fill="#000" stroke="#000" stroke-width="0"/>
<circle cx="136.6" cy="207.8" r="2.6" fill="#000" stroke="#000" stroke-width="0"/>
<text x="102.3" y="191.1" font-size="6.3" text-anchor="start" fill="#8a8a8a" color="#8a8a8a" transform="translate(102.3 191.1) scale(1 1.06) translate(-102.3 -191.1)"><tspan font-style="italic">P</tspan>= 0.0160</text>
<text x="9" y="234.1" font-size="9.7" text-anchor="middle" fill="#1e1e1e" color="#1e1e1e" transform="rotate(-90 9 234.1) translate(9 234.1) scale(1 1.06) translate(-9 -234.1)">Cell associated copies of</text>
<text x="19" y="233.7" font-size="9.5" text-anchor="middle" fill="#1e1e1e" color="#1e1e1e" transform="rotate(-90 19 233.7) translate(19 233.7) scale(1 1.06) translate(-19 -233.7)">envelope gene</text>
<rect x="208.7" y="157.6" width="125.3" height="18.8" fill="none" stroke="#b4b4b4" stroke-width="1"/>
<line x1="218.4" y1="166.7" x2="231.6" y2="166.7" stroke="#555" stroke-width="0.8" stroke-linecap="butt"/>
<circle cx="225" cy="166.7" r="3" fill="#000" stroke="#000" stroke-width="0"/>
<text x="235.3" y="170.3" font-size="9.8" text-anchor="start" fill="#1e1e1e" color="#1e1e1e" transform="translate(235.3 170.3) scale(1 1.06) translate(-235.3 -170.3)">Mock</text>
<line x1="266.8" y1="166.7" x2="279.6" y2="166.7" stroke="#555" stroke-width="0.8" stroke-linecap="butt"/>
<circle cx="273.2" cy="166.7" r="2.9" fill="#c4c4c4" stroke="#3a3a3a" stroke-width="0.9"/>
<text x="283" y="170.3" font-size="9.8" text-anchor="start" fill="#1e1e1e" color="#1e1e1e" transform="translate(283 170.3) scale(1 1.06) translate(-283 -170.3)">Plitidepsin</text>
<line x1="207.2" y1="181" x2="207.2" y2="277.5" stroke="#1e1e1e" stroke-width="1" stroke-linecap="butt"/>
<line x1="203.8" y1="181.5" x2="207.2" y2="181.5" stroke="#1e1e1e" stroke-width="1" stroke-linecap="butt"/>
<text x="187.8" y="185.1" font-size="9.9" text-anchor="start" fill="#1e1e1e" color="#1e1e1e" transform="translate(187.8 185.1) scale(1 1.06) translate(-187.8 -185.1)">10<tspan dx="0.2" dy="-6.0" font-size="7.0">8</tspan></text>
<line x1="205.6" y1="191.04" x2="207.2" y2="191.04" stroke="#1e1e1e" stroke-width="0.6" stroke-linecap="butt"/>
<line x1="205.6" y1="188.63" x2="207.2" y2="188.63" stroke="#1e1e1e" stroke-width="0.6" stroke-linecap="butt"/>
<line x1="205.6" y1="186.93" x2="207.2" y2="186.93" stroke="#1e1e1e" stroke-width="0.6" stroke-linecap="butt"/>
<line x1="205.6" y1="185.61" x2="207.2" y2="185.61" stroke="#1e1e1e" stroke-width="0.6" stroke-linecap="butt"/>
<line x1="205.6" y1="184.53" x2="207.2" y2="184.53" stroke="#1e1e1e" stroke-width="0.6" stroke-linecap="butt"/>
<line x1="205.6" y1="183.61" x2="207.2" y2="183.61" stroke="#1e1e1e" stroke-width="0.6" stroke-linecap="butt"/>
<line x1="205.6" y1="182.82" x2="207.2" y2="182.82" stroke="#1e1e1e" stroke-width="0.6" stroke-linecap="butt"/>
<line x1="205.6" y1="182.12" x2="207.2" y2="182.12" stroke="#1e1e1e" stroke-width="0.6" stroke-linecap="butt"/>
<line x1="203.8" y1="195.14" x2="207.2" y2="195.14" stroke="#1e1e1e" stroke-width="1" stroke-linecap="butt"/>
<text x="187.8" y="198.74" font-size="9.9" text-anchor="start" fill="#1e1e1e" color="#1e1e1e" transform="translate(187.8 198.74) scale(1 1.06) translate(-187.8 -198.74)">10<tspan dx="0.2" dy="-6.0" font-size="7.0">7</tspan></text>
<line x1="205.6" y1="204.68" x2="207.2" y2="204.68" stroke="#1e1e1e" stroke-width="0.6" stroke-linecap="butt"/>
<line x1="205.6" y1="202.28" x2="207.2" y2="202.28" stroke="#1e1e1e" stroke-width="0.6" stroke-linecap="butt"/>
<line x1="205.6" y1="200.57" x2="207.2" y2="200.57" stroke="#1e1e1e" stroke-width="0.6" stroke-linecap="butt"/>
<line x1="205.6" y1="199.25" x2="207.2" y2="199.25" stroke="#1e1e1e" stroke-width="0.6" stroke-linecap="butt"/>
<line x1="205.6" y1="198.17" x2="207.2" y2="198.17" stroke="#1e1e1e" stroke-width="0.6" stroke-linecap="butt"/>
<line x1="205.6" y1="197.26" x2="207.2" y2="197.26" stroke="#1e1e1e" stroke-width="0.6" stroke-linecap="butt"/>
<line x1="205.6" y1="196.46" x2="207.2" y2="196.46" stroke="#1e1e1e" stroke-width="0.6" stroke-linecap="butt"/>
<line x1="205.6" y1="195.77" x2="207.2" y2="195.77" stroke="#1e1e1e" stroke-width="0.6" stroke-linecap="butt"/>
<line x1="203.8" y1="208.79" x2="207.2" y2="208.79" stroke="#1e1e1e" stroke-width="1" stroke-linecap="butt"/>
<text x="187.8" y="212.39" font-size="9.9" text-anchor="start" fill="#1e1e1e" color="#1e1e1e" transform="translate(187.8 212.39) scale(1 1.06) translate(-187.8 -212.39)">10<tspan dx="0.2" dy="-6.0" font-size="7.0">6</tspan></text>
<line x1="205.6" y1="218.32" x2="207.2" y2="218.32" stroke="#1e1e1e" stroke-width="0.6" stroke-linecap="butt"/>
<line x1="205.6" y1="215.92" x2="207.2" y2="215.92" stroke="#1e1e1e" stroke-width="0.6" stroke-linecap="butt"/>
<line x1="205.6" y1="214.21" x2="207.2" y2="214.21" stroke="#1e1e1e" stroke-width="0.6" stroke-linecap="butt"/>
<line x1="205.6" y1="212.89" x2="207.2" y2="212.89" stroke="#1e1e1e" stroke-width="0.6" stroke-linecap="butt"/>
<line x1="205.6" y1="211.81" x2="207.2" y2="211.81" stroke="#1e1e1e" stroke-width="0.6" stroke-linecap="butt"/>
<line x1="205.6" y1="210.9" x2="207.2" y2="210.9" stroke="#1e1e1e" stroke-width="0.6" stroke-linecap="butt"/>
<line x1="205.6" y1="210.11" x2="207.2" y2="210.11" stroke="#1e1e1e" stroke-width="0.6" stroke-linecap="butt"/>
<line x1="205.6" y1="209.41" x2="207.2" y2="209.41" stroke="#1e1e1e" stroke-width="0.6" stroke-linecap="butt"/>
<line x1="203.8" y1="222.43" x2="207.2" y2="222.43" stroke="#1e1e1e" stroke-width="1" stroke-linecap="butt"/>
<text x="187.8" y="226.03" font-size="9.9" text-anchor="start" fill="#1e1e1e" color="#1e1e1e" transform="translate(187.8 226.03) scale(1 1.06) translate(-187.8 -226.03)">10<tspan dx="0.2" dy="-6.0" font-size="7.0">5</tspan></text>
<line x1="205.6" y1="231.96" x2="207.2" y2="231.96" stroke="#1e1e1e" stroke-width="0.6" stroke-linecap="butt"/>
<line x1="205.6" y1="229.56" x2="207.2" y2="229.56" stroke="#1e1e1e" stroke-width="0.6" stroke-linecap="butt"/>
<line x1="205.6" y1="227.86" x2="207.2" y2="227.86" stroke="#1e1e1e" stroke-width="0.6" stroke-linecap="butt"/>
<line x1="205.6" y1="226.54" x2="207.2" y2="226.54" stroke="#1e1e1e" stroke-width="0.6" stroke-linecap="butt"/>
<line x1="205.6" y1="225.46" x2="207.2" y2="225.46" stroke="#1e1e1e" stroke-width="0.6" stroke-linecap="butt"/>
<line x1="205.6" y1="224.54" x2="207.2" y2="224.54" stroke="#1e1e1e" stroke-width="0.6" stroke-linecap="butt"/>
<line x1="205.6" y1="223.75" x2="207.2" y2="223.75" stroke="#1e1e1e" stroke-width="0.6" stroke-linecap="butt"/>
<line x1="205.6" y1="223.05" x2="207.2" y2="223.05" stroke="#1e1e1e" stroke-width="0.6" stroke-linecap="butt"/>
<line x1="203.8" y1="236.07" x2="207.2" y2="236.07" stroke="#1e1e1e" stroke-width="1" stroke-linecap="butt"/>
<text x="187.8" y="239.67" font-size="9.9" text-anchor="start" fill="#1e1e1e" color="#1e1e1e" transform="translate(187.8 239.67) scale(1 1.06) translate(-187.8 -239.67)">10<tspan dx="0.2" dy="-6.0" font-size="7.0">4</tspan></text>
<line x1="205.6" y1="245.61" x2="207.2" y2="245.61" stroke="#1e1e1e" stroke-width="0.6" stroke-linecap="butt"/>
<line x1="205.6" y1="243.2" x2="207.2" y2="243.2" stroke="#1e1e1e" stroke-width="0.6" stroke-linecap="butt"/>
<line x1="205.6" y1="241.5" x2="207.2" y2="241.5" stroke="#1e1e1e" stroke-width="0.6" stroke-linecap="butt"/>
<line x1="205.6" y1="240.18" x2="207.2" y2="240.18" stroke="#1e1e1e" stroke-width="0.6" stroke-linecap="butt"/>
<line x1="205.6" y1="239.1" x2="207.2" y2="239.1" stroke="#1e1e1e" stroke-width="0.6" stroke-linecap="butt"/>
<line x1="205.6" y1="238.18" x2="207.2" y2="238.18" stroke="#1e1e1e" stroke-width="0.6" stroke-linecap="butt"/>
<line x1="205.6" y1="237.39" x2="207.2" y2="237.39" stroke="#1e1e1e" stroke-width="0.6" stroke-linecap="butt"/>
<line x1="205.6" y1="236.7" x2="207.2" y2="236.7" stroke="#1e1e1e" stroke-width="0.6" stroke-linecap="butt"/>
<line x1="203.8" y1="249.71" x2="207.2" y2="249.71" stroke="#1e1e1e" stroke-width="1" stroke-linecap="butt"/>
<text x="187.8" y="253.31" font-size="9.9" text-anchor="start" fill="#1e1e1e" color="#1e1e1e" transform="translate(187.8 253.31) scale(1 1.06) translate(-187.8 -253.31)">10<tspan dx="0.2" dy="-6.0" font-size="7.0">3</tspan></text>
<line x1="205.6" y1="259.25" x2="207.2" y2="259.25" stroke="#1e1e1e" stroke-width="0.6" stroke-linecap="butt"/>
<line x1="205.6" y1="256.85" x2="207.2" y2="256.85" stroke="#1e1e1e" stroke-width="0.6" stroke-linecap="butt"/>
<line x1="205.6" y1="255.14" x2="207.2" y2="255.14" stroke="#1e1e1e" stroke-width="0.6" stroke-linecap="butt"/>
<line x1="205.6" y1="253.82" x2="207.2" y2="253.82" stroke="#1e1e1e" stroke-width="0.6" stroke-linecap="butt"/>
<line x1="205.6" y1="252.74" x2="207.2" y2="252.74" stroke="#1e1e1e" stroke-width="0.6" stroke-linecap="butt"/>
<line x1="205.6" y1="251.83" x2="207.2" y2="251.83" stroke="#1e1e1e" stroke-width="0.6" stroke-linecap="butt"/>
<line x1="205.6" y1="251.04" x2="207.2" y2="251.04" stroke="#1e1e1e" stroke-width="0.6" stroke-linecap="butt"/>
<line x1="205.6" y1="250.34" x2="207.2" y2="250.34" stroke="#1e1e1e" stroke-width="0.6" stroke-linecap="butt"/>
<line x1="203.8" y1="263.36" x2="207.2" y2="263.36" stroke="#1e1e1e" stroke-width="1" stroke-linecap="butt"/>
<text x="187.8" y="266.96" font-size="9.9" text-anchor="start" fill="#1e1e1e" color="#1e1e1e" transform="translate(187.8 266.96) scale(1 1.06) translate(-187.8 -266.96)">10<tspan dx="0.2" dy="-6.0" font-size="7.0">2</tspan></text>
<line x1="205.6" y1="272.89" x2="207.2" y2="272.89" stroke="#1e1e1e" stroke-width="0.6" stroke-linecap="butt"/>
<line x1="205.6" y1="270.49" x2="207.2" y2="270.49" stroke="#1e1e1e" stroke-width="0.6" stroke-linecap="butt"/>
<line x1="205.6" y1="268.79" x2="207.2" y2="268.79" stroke="#1e1e1e" stroke-width="0.6" stroke-linecap="butt"/>
<line x1="205.6" y1="267.46" x2="207.2" y2="267.46" stroke="#1e1e1e" stroke-width="0.6" stroke-linecap="butt"/>
<line x1="205.6" y1="266.38" x2="207.2" y2="266.38" stroke="#1e1e1e" stroke-width="0.6" stroke-linecap="butt"/>
<line x1="205.6" y1="265.47" x2="207.2" y2="265.47" stroke="#1e1e1e" stroke-width="0.6" stroke-linecap="butt"/>
<line x1="205.6" y1="264.68" x2="207.2" y2="264.68" stroke="#1e1e1e" stroke-width="0.6" stroke-linecap="butt"/>
<line x1="205.6" y1="263.98" x2="207.2" y2="263.98" stroke="#1e1e1e" stroke-width="0.6" stroke-linecap="butt"/>
<line x1="203.8" y1="277" x2="207.2" y2="277" stroke="#1e1e1e" stroke-width="1" stroke-linecap="butt"/>
<text x="187.8" y="280.6" font-size="9.9" text-anchor="start" fill="#1e1e1e" color="#1e1e1e" transform="translate(187.8 280.6) scale(1 1.06) translate(-187.8 -280.6)">10<tspan dx="0.2" dy="-6.0" font-size="7.0">1</tspan></text>
<line x1="214.7" y1="288.1" x2="298.3" y2="288.1" stroke="#1e1e1e" stroke-width="1" stroke-linecap="butt"/>
<line x1="215.2" y1="288.1" x2="215.2" y2="291.7" stroke="#1e1e1e" stroke-width="1" stroke-linecap="butt"/>
<line x1="222.5" y1="288.1" x2="222.5" y2="291.7" stroke="#1e1e1e" stroke-width="1" stroke-linecap="butt"/>
<line x1="256.4" y1="288.1" x2="256.4" y2="291.7" stroke="#1e1e1e" stroke-width="1" stroke-linecap="butt"/>
<line x1="297.8" y1="288.1" x2="297.8" y2="291.7" stroke="#1e1e1e" stroke-width="1" stroke-linecap="butt"/>
<text x="213.4" y="301.8" font-size="9.6" text-anchor="middle" fill="#1e1e1e" color="#1e1e1e" transform="translate(213.4 301.8) scale(1 1.06) translate(-213.4 -301.8)">0</text>
<text x="222.5" y="301.8" font-size="9.6" text-anchor="middle" fill="#1e1e1e" color="#1e1e1e" transform="translate(222.5 301.8) scale(1 1.06) translate(-222.5 -301.8)">4</text>
<text x="255.1" y="301.8" font-size="9.6" text-anchor="middle" fill="#1e1e1e" color="#1e1e1e" transform="translate(255.1 301.8) scale(1 1.06) translate(-255.1 -301.8)">24</text>
<text x="296.4" y="301.8" font-size="9.6" text-anchor="middle" fill="#1e1e1e" color="#1e1e1e" transform="translate(296.4 301.8) scale(1 1.06) translate(-296.4 -301.8)">48</text>
<text x="205.7" y="301.8" font-size="9.6" text-anchor="end" font-style="italic" fill="#1e1e1e" color="#1e1e1e" transform="translate(205.7 301.8) scale(1 1.06) translate(-205.7 -301.8)">Hours</text>
<polyline points="215.2,253.6 222.5,254.8 256.4,247.4 297.8,240.7" fill="none" stroke="#333" stroke-width="0.9" stroke-linejoin="round"/>
<polyline points="215.2,253.4 222.5,242.3 256.4,197.7 297.8,195.3" fill="none" stroke="#1e1e1e" stroke-width="0.9" stroke-linejoin="round"/>
<line x1="222.5" y1="249.3" x2="222.5" y2="267.6" stroke="#555" stroke-width="0.8" stroke-linecap="butt"/>
<line x1="220.3" y1="249.3" x2="224.7" y2="249.3" stroke="#555" stroke-width="0.8" stroke-linecap="butt"/>
<line x1="220.3" y1="267.6" x2="224.7" y2="267.6" stroke="#555" stroke-width="0.8" stroke-linecap="butt"/>
<line x1="256.4" y1="242.4" x2="256.4" y2="258.3" stroke="#555" stroke-width="0.8" stroke-linecap="butt"/>
<line x1="254.2" y1="242.4" x2="258.6" y2="242.4" stroke="#555" stroke-width="0.8" stroke-linecap="butt"/>
<line x1="254.2" y1="258.3" x2="258.6" y2="258.3" stroke="#555" stroke-width="0.8" stroke-linecap="butt"/>
<line x1="297.8" y1="237.7" x2="297.8" y2="245.8" stroke="#555" stroke-width="0.8" stroke-linecap="butt"/>
<line x1="295.6" y1="237.7" x2="300" y2="237.7" stroke="#555" stroke-width="0.8" stroke-linecap="butt"/>
<line x1="295.6" y1="245.8" x2="300" y2="245.8" stroke="#555" stroke-width="0.8" stroke-linecap="butt"/>
<line x1="215.2" y1="250" x2="215.2" y2="257" stroke="#1e1e1e" stroke-width="0.8" stroke-linecap="butt"/>
<line x1="213" y1="250" x2="217.4" y2="250" stroke="#1e1e1e" stroke-width="0.8" stroke-linecap="butt"/>
<line x1="213" y1="257" x2="217.4" y2="257" stroke="#1e1e1e" stroke-width="0.8" stroke-linecap="butt"/>
<line x1="222.5" y1="238.9" x2="222.5" y2="246" stroke="#1e1e1e" stroke-width="0.8" stroke-linecap="butt"/>
<line x1="220.3" y1="238.9" x2="224.7" y2="238.9" stroke="#1e1e1e" stroke-width="0.8" stroke-linecap="butt"/>
<line x1="220.3" y1="246" x2="224.7" y2="246" stroke="#1e1e1e" stroke-width="0.8" stroke-linecap="butt"/>
<line x1="256.4" y1="194.3" x2="256.4" y2="205" stroke="#1e1e1e" stroke-width="0.8" stroke-linecap="butt"/>
<line x1="254.2" y1="194.3" x2="258.6" y2="194.3" stroke="#1e1e1e" stroke-width="0.8" stroke-linecap="butt"/>
<line x1="254.2" y1="205" x2="258.6" y2="205" stroke="#1e1e1e" stroke-width="0.8" stroke-linecap="butt"/>
<line x1="297.8" y1="190.6" x2="297.8" y2="200" stroke="#1e1e1e" stroke-width="0.8" stroke-linecap="butt"/>
<line x1="295.6" y1="190.6" x2="300" y2="190.6" stroke="#1e1e1e" stroke-width="0.8" stroke-linecap="butt"/>
<line x1="295.6" y1="200" x2="300" y2="200" stroke="#1e1e1e" stroke-width="0.8" stroke-linecap="butt"/>
<circle cx="215.2" cy="253.6" r="2.5" fill="#c4c4c4" stroke="#3a3a3a" stroke-width="0.7"/>
<circle cx="222.5" cy="254.8" r="2.5" fill="#c4c4c4" stroke="#3a3a3a" stroke-width="0.7"/>
<circle cx="256.4" cy="247.4" r="2.5" fill="#c4c4c4" stroke="#3a3a3a" stroke-width="0.7"/>
<circle cx="297.8" cy="240.7" r="2.5" fill="#c4c4c4" stroke="#3a3a3a" stroke-width="0.7"/>
<circle cx="215.2" cy="253.4" r="2.6" fill="#000" stroke="#000" stroke-width="0"/>
<circle cx="222.5" cy="242.3" r="2.6" fill="#000" stroke="#000" stroke-width="0"/>
<circle cx="256.4" cy="197.7" r="2.6" fill="#000" stroke="#000" stroke-width="0"/>
<circle cx="297.8" cy="195.3" r="2.6" fill="#000" stroke="#000" stroke-width="0"/>
<text x="262.4" y="188.5" font-size="6.3" text-anchor="start" fill="#8a8a8a" color="#8a8a8a" transform="translate(262.4 188.5) scale(1 1.06) translate(-262.4 -188.5)"><tspan font-style="italic">P</tspan>= 0.0437</text>
<text x="172" y="232.35" font-size="9.64" text-anchor="middle" fill="#1e1e1e" color="#1e1e1e" transform="rotate(-90 172 232.35) translate(172 232.35) scale(1 1.06) translate(-172 -232.35)">Cell associated copies of</text>
<text x="182.3" y="233.2" font-size="9.58" text-anchor="middle" fill="#1e1e1e" color="#1e1e1e" transform="rotate(-90 182.3 233.2) translate(182.3 233.2) scale(1 1.06) translate(-182.3 -233.2)">nucleocapsid gene</text>
<text x="338.5" y="164.9" font-size="10.2" text-anchor="start" fill="#1e1e1e" color="#1e1e1e" transform="translate(338.5 164.9) scale(1 1.06) translate(-338.5 -164.9)">D</text>
<line x1="389.1" y1="188.5" x2="389.1" y2="273.9" stroke="#1e1e1e" stroke-width="1" stroke-linecap="butt"/>
<line x1="385.2" y1="273.4" x2="389.1" y2="273.4" stroke="#1e1e1e" stroke-width="1" stroke-linecap="butt"/>
<text x="381.3" y="276.8" font-size="9.7" text-anchor="end" fill="#1e1e1e" color="#1e1e1e" transform="translate(381.3 276.8) scale(1 1.06) translate(-381.3 -276.8)">0</text>
<line x1="385.2" y1="256.52" x2="389.1" y2="256.52" stroke="#1e1e1e" stroke-width="1" stroke-linecap="butt"/>
<text x="381.3" y="259.92" font-size="9.7" text-anchor="end" fill="#1e1e1e" color="#1e1e1e" transform="translate(381.3 259.92) scale(1 1.06) translate(-381.3 -259.92)">200</text>
<line x1="385.2" y1="239.64" x2="389.1" y2="239.64" stroke="#1e1e1e" stroke-width="1" stroke-linecap="butt"/>
<text x="381.3" y="243.04" font-size="9.7" text-anchor="end" fill="#1e1e1e" color="#1e1e1e" transform="translate(381.3 243.04) scale(1 1.06) translate(-381.3 -243.04)">400</text>
<line x1="385.2" y1="222.76" x2="389.1" y2="222.76" stroke="#1e1e1e" stroke-width="1" stroke-linecap="butt"/>
<text x="381.3" y="226.16" font-size="9.7" text-anchor="end" fill="#1e1e1e" color="#1e1e1e" transform="translate(381.3 226.16) scale(1 1.06) translate(-381.3 -226.16)">600</text>
<line x1="385.2" y1="205.88" x2="389.1" y2="205.88" stroke="#1e1e1e" stroke-width="1" stroke-linecap="butt"/>
<text x="381.3" y="209.28" font-size="9.7" text-anchor="end" fill="#1e1e1e" color="#1e1e1e" transform="translate(381.3 209.28) scale(1 1.06) translate(-381.3 -209.28)">800</text>
<line x1="385.2" y1="189" x2="389.1" y2="189" stroke="#1e1e1e" stroke-width="1" stroke-linecap="butt"/>
<text x="381.3" y="192.4" font-size="9.7" text-anchor="end" fill="#1e1e1e" color="#1e1e1e" transform="translate(381.3 192.4) scale(1 1.06) translate(-381.3 -192.4)">1000</text>
<line x1="401.5" y1="288.4" x2="495.3" y2="288.4" stroke="#1e1e1e" stroke-width="1" stroke-linecap="butt"/>
<line x1="402" y1="288.4" x2="402" y2="292" stroke="#1e1e1e" stroke-width="1" stroke-linecap="butt"/>
<line x1="409.5" y1="288.4" x2="409.5" y2="292" stroke="#1e1e1e" stroke-width="1" stroke-linecap="butt"/>
<line x1="448.5" y1="288.4" x2="448.5" y2="292" stroke="#1e1e1e" stroke-width="1" stroke-linecap="butt"/>
<line x1="494.8" y1="288.4" x2="494.8" y2="292" stroke="#1e1e1e" stroke-width="1" stroke-linecap="butt"/>
<text x="401.7" y="301" font-size="9.6" text-anchor="middle" fill="#1e1e1e" color="#1e1e1e" transform="translate(401.7 301) scale(1 1.06) translate(-401.7 -301)">0</text>
<text x="410.1" y="301" font-size="9.6" text-anchor="middle" fill="#1e1e1e" color="#1e1e1e" transform="translate(410.1 301) scale(1 1.06) translate(-410.1 -301)">4</text>
<text x="449.6" y="301" font-size="9.6" text-anchor="middle" fill="#1e1e1e" color="#1e1e1e" transform="translate(449.6 301) scale(1 1.06) translate(-449.6 -301)">24</text>
<text x="494.2" y="301" font-size="9.6" text-anchor="middle" fill="#1e1e1e" color="#1e1e1e" transform="translate(494.2 301) scale(1 1.06) translate(-494.2 -301)">48</text>
<text x="385.6" y="301" font-size="9.6" text-anchor="end" font-style="italic" fill="#1e1e1e" color="#1e1e1e" transform="translate(385.6 301) scale(1 1.06) translate(-385.6 -301)">Hours</text>
<polyline points="402,273.4 409.5,273.2 448.5,273.8 494.8,273.8" fill="none" stroke="#333" stroke-width="0.9" stroke-linejoin="round"/>
<polyline points="402,273.6 409.5,273 448.5,258.8 494.8,203.9" fill="none" stroke="#1e1e1e" stroke-width="0.9" stroke-linejoin="round"/>
<line x1="409.5" y1="265" x2="409.5" y2="277.4" stroke="#1e1e1e" stroke-width="0.8" stroke-linecap="butt"/>
<line x1="407.2" y1="265" x2="411.8" y2="265" stroke="#1e1e1e" stroke-width="0.8" stroke-linecap="butt"/>
<line x1="407.2" y1="277.4" x2="411.8" y2="277.4" stroke="#1e1e1e" stroke-width="0.8" stroke-linecap="butt"/>
<line x1="448.5" y1="255.5" x2="448.5" y2="262.2" stroke="#1e1e1e" stroke-width="0.8" stroke-linecap="butt"/>
<line x1="446.2" y1="255.5" x2="450.8" y2="255.5" stroke="#1e1e1e" stroke-width="0.8" stroke-linecap="butt"/>
<line x1="446.2" y1="262.2" x2="450.8" y2="262.2" stroke="#1e1e1e" stroke-width="0.8" stroke-linecap="butt"/>
<line x1="494.8" y1="196.5" x2="494.8" y2="211.3" stroke="#1e1e1e" stroke-width="0.8" stroke-linecap="butt"/>
<line x1="492.5" y1="196.5" x2="497.1" y2="196.5" stroke="#1e1e1e" stroke-width="0.8" stroke-linecap="butt"/>
<line x1="492.5" y1="211.3" x2="497.1" y2="211.3" stroke="#1e1e1e" stroke-width="0.8" stroke-linecap="butt"/>
<circle cx="448.5" cy="273.8" r="2.6" fill="#c4c4c4" stroke="#3a3a3a" stroke-width="0.8"/>
<circle cx="494.8" cy="273.8" r="2.6" fill="#c4c4c4" stroke="#3a3a3a" stroke-width="0.8"/>
<circle cx="409.5" cy="273.6" r="2.6" fill="#c4c4c4" stroke="#3a3a3a" stroke-width="0.8"/>
<circle cx="402" cy="273.6" r="2.7" fill="#000" stroke="#000" stroke-width="0"/>
<circle cx="409.5" cy="273" r="2.7" fill="#000" stroke="#000" stroke-width="0"/>
<circle cx="448.5" cy="258.8" r="2.7" fill="#000" stroke="#000" stroke-width="0"/>
<circle cx="494.8" cy="203.9" r="2.7" fill="#000" stroke="#000" stroke-width="0"/>
<line x1="495.8" y1="215.6" x2="495.8" y2="266" stroke="#b4b4b4" stroke-width="0.9" stroke-linecap="butt"/>
<line x1="493.8" y1="215.6" x2="497.8" y2="215.6" stroke="#b4b4b4" stroke-width="0.9" stroke-linecap="butt"/>
<line x1="493.8" y1="266" x2="497.8" y2="266" stroke="#b4b4b4" stroke-width="0.9" stroke-linecap="butt"/>
<text x="487.4" y="236.2" font-size="6.3" text-anchor="start" fill="#8a8a8a" color="#8a8a8a" transform="translate(487.4 236.2) scale(1 1.06) translate(-487.4 -236.2)"><tspan font-style="italic">P</tspan>= 0.0022</text>
<text x="346.4" y="231.6" font-size="9.76" text-anchor="middle" fill="#1e1e1e" color="#1e1e1e" transform="rotate(-90 346.4 231.6) translate(346.4 231.6) scale(1 1.06) translate(-346.4 -231.6)">SARS-CoV-2 spike</text>
<text x="356.3" y="229.45" font-size="9.6" text-anchor="middle" fill="#1e1e1e" color="#1e1e1e" transform="rotate(-90 356.3 229.45) translate(356.3 229.45) scale(1 1.06) translate(-356.3 -229.45)">in supernatant (ng/ml)</text>
<rect x="552.6" y="159.3" width="125.8" height="17.7" fill="none" stroke="#b4b4b4" stroke-width="1"/>
<line x1="562.5" y1="168.7" x2="575.5" y2="168.7" stroke="#555" stroke-width="0.8" stroke-linecap="butt"/>
<circle cx="569" cy="168.7" r="3" fill="#000" stroke="#000" stroke-width="0"/>
<text x="579.8" y="172.1" font-size="9.8" text-anchor="start" fill="#1e1e1e" color="#1e1e1e" transform="translate(579.8 172.1) scale(1 1.06) translate(-579.8 -172.1)">Mock</text>
<line x1="610.6" y1="168.7" x2="623.4" y2="168.7" stroke="#555" stroke-width="0.8" stroke-linecap="butt"/>
<circle cx="617" cy="168.7" r="2.9" fill="#c4c4c4" stroke="#3a3a3a" stroke-width="0.9"/>
<text x="627.3" y="172.1" font-size="9.8" text-anchor="start" fill="#1e1e1e" color="#1e1e1e" transform="translate(627.3 172.1) scale(1 1.06) translate(-627.3 -172.1)">Plitidepsin</text>
<line x1="570.2" y1="191.6" x2="570.2" y2="274.7" stroke="#1e1e1e" stroke-width="1" stroke-linecap="butt"/>
<line x1="566.4" y1="274.2" x2="570.2" y2="274.2" stroke="#1e1e1e" stroke-width="1" stroke-linecap="butt"/>
<text x="562.8" y="277.6" font-size="9.7" text-anchor="end" fill="#1e1e1e" color="#1e1e1e" transform="translate(562.8 277.6) scale(1 1.06) translate(-562.8 -277.6)">1</text>
<line x1="568.4" y1="265.96" x2="570.2" y2="265.96" stroke="#1e1e1e" stroke-width="0.6" stroke-linecap="butt"/>
<line x1="568.4" y1="261.14" x2="570.2" y2="261.14" stroke="#1e1e1e" stroke-width="0.6" stroke-linecap="butt"/>
<line x1="568.4" y1="257.72" x2="570.2" y2="257.72" stroke="#1e1e1e" stroke-width="0.6" stroke-linecap="butt"/>
<line x1="568.4" y1="255.07" x2="570.2" y2="255.07" stroke="#1e1e1e" stroke-width="0.6" stroke-linecap="butt"/>
<line x1="568.4" y1="252.9" x2="570.2" y2="252.9" stroke="#1e1e1e" stroke-width="0.6" stroke-linecap="butt"/>
<line x1="568.4" y1="251.07" x2="570.2" y2="251.07" stroke="#1e1e1e" stroke-width="0.6" stroke-linecap="butt"/>
<line x1="568.4" y1="249.48" x2="570.2" y2="249.48" stroke="#1e1e1e" stroke-width="0.6" stroke-linecap="butt"/>
<line x1="568.4" y1="248.08" x2="570.2" y2="248.08" stroke="#1e1e1e" stroke-width="0.6" stroke-linecap="butt"/>
<line x1="566.4" y1="246.83" x2="570.2" y2="246.83" stroke="#1e1e1e" stroke-width="1" stroke-linecap="butt"/>
<text x="562.8" y="250.23" font-size="9.7" text-anchor="end" fill="#1e1e1e" color="#1e1e1e" transform="translate(562.8 250.23) scale(1 1.06) translate(-562.8 -250.23)">10</text>
<line x1="568.4" y1="238.59" x2="570.2" y2="238.59" stroke="#1e1e1e" stroke-width="0.6" stroke-linecap="butt"/>
<line x1="568.4" y1="233.77" x2="570.2" y2="233.77" stroke="#1e1e1e" stroke-width="0.6" stroke-linecap="butt"/>
<line x1="568.4" y1="230.35" x2="570.2" y2="230.35" stroke="#1e1e1e" stroke-width="0.6" stroke-linecap="butt"/>
<line x1="568.4" y1="227.7" x2="570.2" y2="227.7" stroke="#1e1e1e" stroke-width="0.6" stroke-linecap="butt"/>
<line x1="568.4" y1="225.53" x2="570.2" y2="225.53" stroke="#1e1e1e" stroke-width="0.6" stroke-linecap="butt"/>
<line x1="568.4" y1="223.7" x2="570.2" y2="223.7" stroke="#1e1e1e" stroke-width="0.6" stroke-linecap="butt"/>
<line x1="568.4" y1="222.11" x2="570.2" y2="222.11" stroke="#1e1e1e" stroke-width="0.6" stroke-linecap="butt"/>
<line x1="568.4" y1="220.71" x2="570.2" y2="220.71" stroke="#1e1e1e" stroke-width="0.6" stroke-linecap="butt"/>
<line x1="566.4" y1="219.46" x2="570.2" y2="219.46" stroke="#1e1e1e" stroke-width="1" stroke-linecap="butt"/>
<text x="562.8" y="222.86" font-size="9.7" text-anchor="end" fill="#1e1e1e" color="#1e1e1e" transform="translate(562.8 222.86) scale(1 1.06) translate(-562.8 -222.86)">100</text>
<line x1="568.4" y1="211.22" x2="570.2" y2="211.22" stroke="#1e1e1e" stroke-width="0.6" stroke-linecap="butt"/>
<line x1="568.4" y1="206.4" x2="570.2" y2="206.4" stroke="#1e1e1e" stroke-width="0.6" stroke-linecap="butt"/>
<line x1="568.4" y1="202.98" x2="570.2" y2="202.98" stroke="#1e1e1e" stroke-width="0.6" stroke-linecap="butt"/>
<line x1="568.4" y1="200.33" x2="570.2" y2="200.33" stroke="#1e1e1e" stroke-width="0.6" stroke-linecap="butt"/>
<line x1="568.4" y1="198.16" x2="570.2" y2="198.16" stroke="#1e1e1e" stroke-width="0.6" stroke-linecap="butt"/>
<line x1="568.4" y1="196.33" x2="570.2" y2="196.33" stroke="#1e1e1e" stroke-width="0.6" stroke-linecap="butt"/>
<line x1="568.4" y1="194.74" x2="570.2" y2="194.74" stroke="#1e1e1e" stroke-width="0.6" stroke-linecap="butt"/>
<line x1="568.4" y1="193.34" x2="570.2" y2="193.34" stroke="#1e1e1e" stroke-width="0.6" stroke-linecap="butt"/>
<line x1="566.4" y1="192.09" x2="570.2" y2="192.09" stroke="#1e1e1e" stroke-width="1" stroke-linecap="butt"/>
<text x="562.8" y="195.49" font-size="9.7" text-anchor="end" fill="#1e1e1e" color="#1e1e1e" transform="translate(562.8 195.49) scale(1 1.06) translate(-562.8 -195.49)">1000</text>
<line x1="580.7" y1="287.5" x2="664.1" y2="287.5" stroke="#1e1e1e" stroke-width="1" stroke-linecap="butt"/>
<line x1="581.2" y1="287.5" x2="581.2" y2="291.1" stroke="#1e1e1e" stroke-width="1" stroke-linecap="butt"/>
<line x1="587.8" y1="287.5" x2="587.8" y2="291.1" stroke="#1e1e1e" stroke-width="1" stroke-linecap="butt"/>
<line x1="622.5" y1="287.5" x2="622.5" y2="291.1" stroke="#1e1e1e" stroke-width="1" stroke-linecap="butt"/>
<line x1="663.6" y1="287.5" x2="663.6" y2="291.1" stroke="#1e1e1e" stroke-width="1" stroke-linecap="butt"/>
<text x="579.6" y="301.4" font-size="9.6" text-anchor="middle" fill="#1e1e1e" color="#1e1e1e" transform="translate(579.6 301.4) scale(1 1.06) translate(-579.6 -301.4)">0</text>
<text x="587.8" y="301.4" font-size="9.6" text-anchor="middle" fill="#1e1e1e" color="#1e1e1e" transform="translate(587.8 301.4) scale(1 1.06) translate(-587.8 -301.4)">4</text>
<text x="621.4" y="301.4" font-size="9.6" text-anchor="middle" fill="#1e1e1e" color="#1e1e1e" transform="translate(621.4 301.4) scale(1 1.06) translate(-621.4 -301.4)">24</text>
<text x="663.8" y="301.4" font-size="9.6" text-anchor="middle" fill="#1e1e1e" color="#1e1e1e" transform="translate(663.8 301.4) scale(1 1.06) translate(-663.8 -301.4)">48</text>
<text x="572.8" y="301.4" font-size="9.6" text-anchor="end" font-style="italic" fill="#1e1e1e" color="#1e1e1e" transform="translate(572.8 301.4) scale(1 1.06) translate(-572.8 -301.4)">Hours</text>
<polyline points="581.4,263.4 587.7,263.4 622.5,263.4 663.5,263.4" fill="none" stroke="#333" stroke-width="0.9" stroke-linejoin="round"/>
<polyline points="581.4,263.4 587.7,263.4 622.5,216.5 663.5,201" fill="none" stroke="#1e1e1e" stroke-width="0.9" stroke-linejoin="round"/>
<line x1="581.4" y1="258.3" x2="581.4" y2="273.1" stroke="#1e1e1e" stroke-width="0.8" stroke-linecap="butt"/>
<line x1="579.1" y1="258.3" x2="583.7" y2="258.3" stroke="#1e1e1e" stroke-width="0.8" stroke-linecap="butt"/>
<line x1="579.1" y1="273.1" x2="583.7" y2="273.1" stroke="#1e1e1e" stroke-width="0.8" stroke-linecap="butt"/>
<line x1="587.7" y1="258.3" x2="587.7" y2="273.1" stroke="#1e1e1e" stroke-width="0.8" stroke-linecap="butt"/>
<line x1="585.4" y1="258.3" x2="590" y2="258.3" stroke="#1e1e1e" stroke-width="0.8" stroke-linecap="butt"/>
<line x1="585.4" y1="273.1" x2="590" y2="273.1" stroke="#1e1e1e" stroke-width="0.8" stroke-linecap="butt"/>
<line x1="622.5" y1="212" x2="622.5" y2="222.2" stroke="#1e1e1e" stroke-width="0.8" stroke-linecap="butt"/>
<line x1="620.3" y1="212" x2="624.7" y2="212" stroke="#1e1e1e" stroke-width="0.8" stroke-linecap="butt"/>
<line x1="620.3" y1="222.2" x2="624.7" y2="222.2" stroke="#1e1e1e" stroke-width="0.8" stroke-linecap="butt"/>
<line x1="663.5" y1="196" x2="663.5" y2="209.8" stroke="#1e1e1e" stroke-width="0.8" stroke-linecap="butt"/>
<line x1="661.3" y1="196" x2="665.7" y2="196" stroke="#1e1e1e" stroke-width="0.8" stroke-linecap="butt"/>
<line x1="661.3" y1="209.8" x2="665.7" y2="209.8" stroke="#1e1e1e" stroke-width="0.8" stroke-linecap="butt"/>
<line x1="622.5" y1="258.5" x2="622.5" y2="272.6" stroke="#555" stroke-width="0.8" stroke-linecap="butt"/>
<line x1="620.3" y1="258.5" x2="624.7" y2="258.5" stroke="#555" stroke-width="0.8" stroke-linecap="butt"/>
<line x1="620.3" y1="272.6" x2="624.7" y2="272.6" stroke="#555" stroke-width="0.8" stroke-linecap="butt"/>
<line x1="663.5" y1="258.5" x2="663.5" y2="272.6" stroke="#555" stroke-width="0.8" stroke-linecap="butt"/>
<line x1="661.3" y1="258.5" x2="665.7" y2="258.5" stroke="#555" stroke-width="0.8" stroke-linecap="butt"/>
<line x1="661.3" y1="272.6" x2="665.7" y2="272.6" stroke="#555" stroke-width="0.8" stroke-linecap="butt"/>
<circle cx="622.5" cy="263.2" r="2.5" fill="#c4c4c4" stroke="#3a3a3a" stroke-width="0.7"/>
<circle cx="663.5" cy="263.2" r="2.5" fill="#c4c4c4" stroke="#3a3a3a" stroke-width="0.7"/>
<circle cx="581.4" cy="263.4" r="2.7" fill="#000" stroke="#000" stroke-width="0"/>
<circle cx="587.7" cy="263.4" r="2.7" fill="#000" stroke="#000" stroke-width="0"/>
<circle cx="622.5" cy="216.5" r="2.7" fill="#000" stroke="#000" stroke-width="0"/>
<circle cx="663.5" cy="201" r="2.7" fill="#000" stroke="#000" stroke-width="0"/>
<line x1="663.8" y1="213.1" x2="663.8" y2="254.8" stroke="#b4b4b4" stroke-width="0.9" stroke-linecap="butt"/>
<line x1="661.8" y1="213.1" x2="665.8" y2="213.1" stroke="#b4b4b4" stroke-width="0.9" stroke-linecap="butt"/>
<line x1="661.8" y1="254.8" x2="665.8" y2="254.8" stroke="#b4b4b4" stroke-width="0.9" stroke-linecap="butt"/>
<text x="656" y="235.5" font-size="6.3" text-anchor="start" fill="#8a8a8a" color="#8a8a8a" transform="translate(656 235.5) scale(1 1.06) translate(-656 -235.5)"><tspan font-style="italic">P</tspan>= 0.0260</text>
<text x="526.7" y="233.45" font-size="9.66" text-anchor="middle" fill="#1e1e1e" color="#1e1e1e" transform="rotate(-90 526.7 233.45) translate(526.7 233.45) scale(1 1.06) translate(-526.7 -233.45)">SARS-CoV-2 nucleocapsid</text>
<text x="536.6" y="232.4" font-size="9.74" text-anchor="middle" fill="#1e1e1e" color="#1e1e1e" transform="rotate(-90 536.6 232.4) translate(536.6 232.4) scale(1 1.06) translate(-536.6 -232.4)">in supernatant (ng/ml)</text>
<text x="3.3" y="322.6" font-size="10.6" text-anchor="start" fill="#1e1e1e" color="#1e1e1e" transform="translate(3.3 322.6) scale(1 1.06) translate(-3.3 -322.6)">E</text>
<rect x="47.2" y="434.5" width="80.5" height="7.5" fill="#e8e8e8" stroke="none" stroke-width="1"/>
<line x1="46.4" y1="334.8" x2="46.4" y2="442.3" stroke="#1e1e1e" stroke-width="1" stroke-linecap="butt"/>
<line x1="43" y1="335.3" x2="46.4" y2="335.3" stroke="#1e1e1e" stroke-width="1" stroke-linecap="butt"/>
<text x="25.9" y="340.4" font-size="10.1" text-anchor="start" fill="#1e1e1e" color="#1e1e1e" transform="translate(25.9 340.4) scale(1 1.06) translate(-25.9 -340.4)">10<tspan dx="0.6" dy="-6.2" font-size="8.6">8</tspan></text>
<line x1="44.7" y1="350.19" x2="46.4" y2="350.19" stroke="#1e1e1e" stroke-width="0.6" stroke-linecap="butt"/>
<line x1="44.7" y1="346.44" x2="46.4" y2="346.44" stroke="#1e1e1e" stroke-width="0.6" stroke-linecap="butt"/>
<line x1="44.7" y1="343.78" x2="46.4" y2="343.78" stroke="#1e1e1e" stroke-width="0.6" stroke-linecap="butt"/>
<line x1="44.7" y1="341.71" x2="46.4" y2="341.71" stroke="#1e1e1e" stroke-width="0.6" stroke-linecap="butt"/>
<line x1="44.7" y1="340.03" x2="46.4" y2="340.03" stroke="#1e1e1e" stroke-width="0.6" stroke-linecap="butt"/>
<line x1="44.7" y1="338.6" x2="46.4" y2="338.6" stroke="#1e1e1e" stroke-width="0.6" stroke-linecap="butt"/>
<line x1="44.7" y1="337.36" x2="46.4" y2="337.36" stroke="#1e1e1e" stroke-width="0.6" stroke-linecap="butt"/>
<line x1="44.7" y1="336.27" x2="46.4" y2="336.27" stroke="#1e1e1e" stroke-width="0.6" stroke-linecap="butt"/>
<line x1="43" y1="356.6" x2="46.4" y2="356.6" stroke="#1e1e1e" stroke-width="1" stroke-linecap="butt"/>
<text x="25.9" y="361.7" font-size="10.1" text-anchor="start" fill="#1e1e1e" color="#1e1e1e" transform="translate(25.9 361.7) scale(1 1.06) translate(-25.9 -361.7)">10<tspan dx="0.6" dy="-6.2" font-size="8.6">7</tspan></text>
<line x1="44.7" y1="371.49" x2="46.4" y2="371.49" stroke="#1e1e1e" stroke-width="0.6" stroke-linecap="butt"/>
<line x1="44.7" y1="367.74" x2="46.4" y2="367.74" stroke="#1e1e1e" stroke-width="0.6" stroke-linecap="butt"/>
<line x1="44.7" y1="365.08" x2="46.4" y2="365.08" stroke="#1e1e1e" stroke-width="0.6" stroke-linecap="butt"/>
<line x1="44.7" y1="363.01" x2="46.4" y2="363.01" stroke="#1e1e1e" stroke-width="0.6" stroke-linecap="butt"/>
<line x1="44.7" y1="361.33" x2="46.4" y2="361.33" stroke="#1e1e1e" stroke-width="0.6" stroke-linecap="butt"/>
<line x1="44.7" y1="359.9" x2="46.4" y2="359.9" stroke="#1e1e1e" stroke-width="0.6" stroke-linecap="butt"/>
<line x1="44.7" y1="358.66" x2="46.4" y2="358.66" stroke="#1e1e1e" stroke-width="0.6" stroke-linecap="butt"/>
<line x1="44.7" y1="357.57" x2="46.4" y2="357.57" stroke="#1e1e1e" stroke-width="0.6" stroke-linecap="butt"/>
<line x1="43" y1="377.9" x2="46.4" y2="377.9" stroke="#1e1e1e" stroke-width="1" stroke-linecap="butt"/>
<text x="25.9" y="383" font-size="10.1" text-anchor="start" fill="#1e1e1e" color="#1e1e1e" transform="translate(25.9 383) scale(1 1.06) translate(-25.9 -383)">10<tspan dx="0.6" dy="-6.2" font-size="8.6">6</tspan></text>
<line x1="44.7" y1="392.79" x2="46.4" y2="392.79" stroke="#1e1e1e" stroke-width="0.6" stroke-linecap="butt"/>
<line x1="44.7" y1="389.04" x2="46.4" y2="389.04" stroke="#1e1e1e" stroke-width="0.6" stroke-linecap="butt"/>
<line x1="44.7" y1="386.38" x2="46.4" y2="386.38" stroke="#1e1e1e" stroke-width="0.6" stroke-linecap="butt"/>
<line x1="44.7" y1="384.31" x2="46.4" y2="384.31" stroke="#1e1e1e" stroke-width="0.6" stroke-linecap="butt"/>
<line x1="44.7" y1="382.63" x2="46.4" y2="382.63" stroke="#1e1e1e" stroke-width="0.6" stroke-linecap="butt"/>
<line x1="44.7" y1="381.2" x2="46.4" y2="381.2" stroke="#1e1e1e" stroke-width="0.6" stroke-linecap="butt"/>
<line x1="44.7" y1="379.96" x2="46.4" y2="379.96" stroke="#1e1e1e" stroke-width="0.6" stroke-linecap="butt"/>
<line x1="44.7" y1="378.87" x2="46.4" y2="378.87" stroke="#1e1e1e" stroke-width="0.6" stroke-linecap="butt"/>
<line x1="43" y1="399.2" x2="46.4" y2="399.2" stroke="#1e1e1e" stroke-width="1" stroke-linecap="butt"/>
<text x="25.9" y="404.3" font-size="10.1" text-anchor="start" fill="#1e1e1e" color="#1e1e1e" transform="translate(25.9 404.3) scale(1 1.06) translate(-25.9 -404.3)">10<tspan dx="0.6" dy="-6.2" font-size="8.6">5</tspan></text>
<line x1="44.7" y1="414.09" x2="46.4" y2="414.09" stroke="#1e1e1e" stroke-width="0.6" stroke-linecap="butt"/>
<line x1="44.7" y1="410.34" x2="46.4" y2="410.34" stroke="#1e1e1e" stroke-width="0.6" stroke-linecap="butt"/>
<line x1="44.7" y1="407.68" x2="46.4" y2="407.68" stroke="#1e1e1e" stroke-width="0.6" stroke-linecap="butt"/>
<line x1="44.7" y1="405.61" x2="46.4" y2="405.61" stroke="#1e1e1e" stroke-width="0.6" stroke-linecap="butt"/>
<line x1="44.7" y1="403.93" x2="46.4" y2="403.93" stroke="#1e1e1e" stroke-width="0.6" stroke-linecap="butt"/>
<line x1="44.7" y1="402.5" x2="46.4" y2="402.5" stroke="#1e1e1e" stroke-width="0.6" stroke-linecap="butt"/>
<line x1="44.7" y1="401.26" x2="46.4" y2="401.26" stroke="#1e1e1e" stroke-width="0.6" stroke-linecap="butt"/>
<line x1="44.7" y1="400.17" x2="46.4" y2="400.17" stroke="#1e1e1e" stroke-width="0.6" stroke-linecap="butt"/>
<line x1="43" y1="420.5" x2="46.4" y2="420.5" stroke="#1e1e1e" stroke-width="1" stroke-linecap="butt"/>
<text x="25.9" y="425.6" font-size="10.1" text-anchor="start" fill="#1e1e1e" color="#1e1e1e" transform="translate(25.9 425.6) scale(1 1.06) translate(-25.9 -425.6)">10<tspan dx="0.6" dy="-6.2" font-size="8.6">4</tspan></text>
<line x1="44.7" y1="435.39" x2="46.4" y2="435.39" stroke="#1e1e1e" stroke-width="0.6" stroke-linecap="butt"/>
<line x1="44.7" y1="431.64" x2="46.4" y2="431.64" stroke="#1e1e1e" stroke-width="0.6" stroke-linecap="butt"/>
<line x1="44.7" y1="428.98" x2="46.4" y2="428.98" stroke="#1e1e1e" stroke-width="0.6" stroke-linecap="butt"/>
<line x1="44.7" y1="426.91" x2="46.4" y2="426.91" stroke="#1e1e1e" stroke-width="0.6" stroke-linecap="butt"/>
<line x1="44.7" y1="425.23" x2="46.4" y2="425.23" stroke="#1e1e1e" stroke-width="0.6" stroke-linecap="butt"/>
<line x1="44.7" y1="423.8" x2="46.4" y2="423.8" stroke="#1e1e1e" stroke-width="0.6" stroke-linecap="butt"/>
<line x1="44.7" y1="422.56" x2="46.4" y2="422.56" stroke="#1e1e1e" stroke-width="0.6" stroke-linecap="butt"/>
<line x1="44.7" y1="421.47" x2="46.4" y2="421.47" stroke="#1e1e1e" stroke-width="0.6" stroke-linecap="butt"/>
<line x1="43" y1="441.8" x2="46.4" y2="441.8" stroke="#1e1e1e" stroke-width="1" stroke-linecap="butt"/>
<text x="25.9" y="446.9" font-size="10.1" text-anchor="start" fill="#1e1e1e" color="#1e1e1e" transform="translate(25.9 446.9) scale(1 1.06) translate(-25.9 -446.9)">10<tspan dx="0.6" dy="-6.2" font-size="8.6">3</tspan></text>
<line x1="47.2" y1="434.3" x2="127.7" y2="434.3" stroke="#333" stroke-width="0.9" stroke-dasharray="3.6,2.8" stroke-linecap="butt"/>
<text x="130.2" y="437" font-size="8.3" text-anchor="start" fill="#1e1e1e" color="#1e1e1e" transform="translate(130.2 437) scale(1 1.06) translate(-130.2 -437)">viral input</text>
<rect x="67.8" y="361.7" width="8.8" height="80.1" fill="#000" stroke="none" stroke-width="1"/>
<rect x="108.3" y="412.8" width="9.2" height="29" fill="#b8b8b8" stroke="#666" stroke-width="0.8"/>
<line x1="72.2" y1="355" x2="72.2" y2="361.7" stroke="#1e1e1e" stroke-width="0.8" stroke-linecap="butt"/>
<line x1="70" y1="355" x2="74.4" y2="355" stroke="#1e1e1e" stroke-width="0.8" stroke-linecap="butt"/>
<line x1="70" y1="361.7" x2="74.4" y2="361.7" stroke="#1e1e1e" stroke-width="0.8" stroke-linecap="butt"/>
<line x1="112.9" y1="404.5" x2="112.9" y2="412.8" stroke="#666" stroke-width="0.8" stroke-linecap="butt"/>
<line x1="110.6" y1="404.5" x2="115.2" y2="404.5" stroke="#666" stroke-width="0.8" stroke-linecap="butt"/>
<circle cx="72.1" cy="351.2" r="2.2" fill="#fff" stroke="#000" stroke-width="0.8"/>
<circle cx="72.1" cy="361.9" r="2.2" fill="#fff" stroke="#000" stroke-width="0.8"/>
<circle cx="67.6" cy="367.2" r="2.2" fill="#fff" stroke="#000" stroke-width="0.8"/>
<circle cx="72.1" cy="367.2" r="2.2" fill="#fff" stroke="#000" stroke-width="0.8"/>
<circle cx="76.6" cy="367.2" r="2.2" fill="#fff" stroke="#000" stroke-width="0.8"/>
<circle cx="72.1" cy="372.6" r="2.2" fill="#fff" stroke="#000" stroke-width="0.8"/>
<circle cx="108.6" cy="404.5" r="2.2" fill="#fff" stroke="#444" stroke-width="0.8"/>
<circle cx="117.2" cy="404.5" r="2.2" fill="#fff" stroke="#444" stroke-width="0.8"/>
<circle cx="112.9" cy="415.4" r="2.2" fill="#fff" stroke="#444" stroke-width="0.8"/>
<circle cx="112.9" cy="425.9" r="2.2" fill="#fff" stroke="#444" stroke-width="0.8"/>
<circle cx="112.9" cy="431.5" r="2.2" fill="#fff" stroke="#444" stroke-width="0.8"/>
<circle cx="112.9" cy="437" r="2.2" fill="#fff" stroke="#444" stroke-width="0.8"/>
<polyline points="72.2,340.1 72.2,336.6 111.4,336.6 111.4,377" fill="none" stroke="#9a9a9a" stroke-width="0.9" stroke-linejoin="round"/>
<text x="102.3" y="386.7" font-size="6.4" text-anchor="start" fill="#8a8a8a" color="#8a8a8a" transform="translate(102.3 386.7) scale(1 1.06) translate(-102.3 -386.7)"><tspan font-style="italic">P</tspan>=0.0022</text>
<text x="70.6" y="454.9" font-size="9.6" text-anchor="middle" fill="#1e1e1e" color="#1e1e1e" transform="translate(70.6 454.9) scale(1 1.06) translate(-70.6 -454.9)">Mock</text>
<text x="113.4" y="454.9" font-size="9.6" text-anchor="middle" fill="#1e1e1e" color="#1e1e1e" transform="translate(113.4 454.9) scale(1 1.06) translate(-113.4 -454.9)">Plitidepsin</text>
<text x="21.1" y="392" font-size="9.8" text-anchor="middle" fill="#1e1e1e" color="#1e1e1e" transform="rotate(-90 21.1 392) translate(21.1 392) scale(1 1.06) translate(-21.1 -392)">SARS-CoV-2 TCID<tspan font-size="6" dy="1.6">50</tspan><tspan dy="-1.6">/ml</tspan></text>
<text x="162.4" y="322.5" font-size="10.6" text-anchor="start" fill="#1e1e1e" color="#1e1e1e" transform="translate(162.4 322.5) scale(1 1.06) translate(-162.4 -322.5)">F</text>
<line x1="226.8" y1="336.8" x2="226.8" y2="431.9" stroke="#1e1e1e" stroke-width="1" stroke-linecap="butt"/>
<line x1="223.4" y1="431.4" x2="226.8" y2="431.4" stroke="#1e1e1e" stroke-width="1" stroke-linecap="butt"/>
<text x="222.4" y="434.5" font-size="8.8" text-anchor="end" fill="#1e1e1e" color="#1e1e1e" transform="translate(222.4 434.5) scale(1 1.06) translate(-222.4 -434.5)">1</text>
<line x1="225.2" y1="424.31" x2="226.8" y2="424.31" stroke="#1e1e1e" stroke-width="0.6" stroke-linecap="butt"/>
<line x1="225.2" y1="420.16" x2="226.8" y2="420.16" stroke="#1e1e1e" stroke-width="0.6" stroke-linecap="butt"/>
<line x1="225.2" y1="417.22" x2="226.8" y2="417.22" stroke="#1e1e1e" stroke-width="0.6" stroke-linecap="butt"/>
<line x1="225.2" y1="414.94" x2="226.8" y2="414.94" stroke="#1e1e1e" stroke-width="0.6" stroke-linecap="butt"/>
<line x1="225.2" y1="413.07" x2="226.8" y2="413.07" stroke="#1e1e1e" stroke-width="0.6" stroke-linecap="butt"/>
<line x1="225.2" y1="411.5" x2="226.8" y2="411.5" stroke="#1e1e1e" stroke-width="0.6" stroke-linecap="butt"/>
<line x1="225.2" y1="410.13" x2="226.8" y2="410.13" stroke="#1e1e1e" stroke-width="0.6" stroke-linecap="butt"/>
<line x1="225.2" y1="408.93" x2="226.8" y2="408.93" stroke="#1e1e1e" stroke-width="0.6" stroke-linecap="butt"/>
<line x1="223.4" y1="407.85" x2="226.8" y2="407.85" stroke="#1e1e1e" stroke-width="1" stroke-linecap="butt"/>
<text x="222.4" y="410.95" font-size="8.8" text-anchor="end" fill="#1e1e1e" color="#1e1e1e" transform="translate(222.4 410.95) scale(1 1.06) translate(-222.4 -410.95)">10</text>
<line x1="225.2" y1="400.76" x2="226.8" y2="400.76" stroke="#1e1e1e" stroke-width="0.6" stroke-linecap="butt"/>
<line x1="225.2" y1="396.61" x2="226.8" y2="396.61" stroke="#1e1e1e" stroke-width="0.6" stroke-linecap="butt"/>
<line x1="225.2" y1="393.67" x2="226.8" y2="393.67" stroke="#1e1e1e" stroke-width="0.6" stroke-linecap="butt"/>
<line x1="225.2" y1="391.39" x2="226.8" y2="391.39" stroke="#1e1e1e" stroke-width="0.6" stroke-linecap="butt"/>
<line x1="225.2" y1="389.52" x2="226.8" y2="389.52" stroke="#1e1e1e" stroke-width="0.6" stroke-linecap="butt"/>
<line x1="225.2" y1="387.95" x2="226.8" y2="387.95" stroke="#1e1e1e" stroke-width="0.6" stroke-linecap="butt"/>
<line x1="225.2" y1="386.58" x2="226.8" y2="386.58" stroke="#1e1e1e" stroke-width="0.6" stroke-linecap="butt"/>
<line x1="225.2" y1="385.38" x2="226.8" y2="385.38" stroke="#1e1e1e" stroke-width="0.6" stroke-linecap="butt"/>
<line x1="223.4" y1="384.3" x2="226.8" y2="384.3" stroke="#1e1e1e" stroke-width="1" stroke-linecap="butt"/>
<text x="222.4" y="387.4" font-size="8.8" text-anchor="end" fill="#1e1e1e" color="#1e1e1e" transform="translate(222.4 387.4) scale(1 1.06) translate(-222.4 -387.4)">100</text>
<line x1="225.2" y1="377.21" x2="226.8" y2="377.21" stroke="#1e1e1e" stroke-width="0.6" stroke-linecap="butt"/>
<line x1="225.2" y1="373.06" x2="226.8" y2="373.06" stroke="#1e1e1e" stroke-width="0.6" stroke-linecap="butt"/>
<line x1="225.2" y1="370.12" x2="226.8" y2="370.12" stroke="#1e1e1e" stroke-width="0.6" stroke-linecap="butt"/>
<line x1="225.2" y1="367.84" x2="226.8" y2="367.84" stroke="#1e1e1e" stroke-width="0.6" stroke-linecap="butt"/>
<line x1="225.2" y1="365.97" x2="226.8" y2="365.97" stroke="#1e1e1e" stroke-width="0.6" stroke-linecap="butt"/>
<line x1="225.2" y1="364.4" x2="226.8" y2="364.4" stroke="#1e1e1e" stroke-width="0.6" stroke-linecap="butt"/>
<line x1="225.2" y1="363.03" x2="226.8" y2="363.03" stroke="#1e1e1e" stroke-width="0.6" stroke-linecap="butt"/>
<line x1="225.2" y1="361.83" x2="226.8" y2="361.83" stroke="#1e1e1e" stroke-width="0.6" stroke-linecap="butt"/>
<line x1="223.4" y1="360.75" x2="226.8" y2="360.75" stroke="#1e1e1e" stroke-width="1" stroke-linecap="butt"/>
<text x="222.4" y="363.85" font-size="8.8" text-anchor="end" fill="#1e1e1e" color="#1e1e1e" transform="translate(222.4 363.85) scale(1 1.06) translate(-222.4 -363.85)">1000</text>
<line x1="225.2" y1="353.66" x2="226.8" y2="353.66" stroke="#1e1e1e" stroke-width="0.6" stroke-linecap="butt"/>
<line x1="225.2" y1="349.51" x2="226.8" y2="349.51" stroke="#1e1e1e" stroke-width="0.6" stroke-linecap="butt"/>
<line x1="225.2" y1="346.57" x2="226.8" y2="346.57" stroke="#1e1e1e" stroke-width="0.6" stroke-linecap="butt"/>
<line x1="225.2" y1="344.29" x2="226.8" y2="344.29" stroke="#1e1e1e" stroke-width="0.6" stroke-linecap="butt"/>
<line x1="225.2" y1="342.42" x2="226.8" y2="342.42" stroke="#1e1e1e" stroke-width="0.6" stroke-linecap="butt"/>
<line x1="225.2" y1="340.85" x2="226.8" y2="340.85" stroke="#1e1e1e" stroke-width="0.6" stroke-linecap="butt"/>
<line x1="225.2" y1="339.48" x2="226.8" y2="339.48" stroke="#1e1e1e" stroke-width="0.6" stroke-linecap="butt"/>
<line x1="225.2" y1="338.28" x2="226.8" y2="338.28" stroke="#1e1e1e" stroke-width="0.6" stroke-linecap="butt"/>
<line x1="223.4" y1="337.2" x2="226.8" y2="337.2" stroke="#1e1e1e" stroke-width="1" stroke-linecap="butt"/>
<text x="222.4" y="340.3" font-size="8.8" text-anchor="end" fill="#1e1e1e" color="#1e1e1e" transform="translate(222.4 340.3) scale(1 1.06) translate(-222.4 -340.3)">10000</text>
<rect x="243" y="353.8" width="7.7" height="77.6" fill="#000" stroke="none" stroke-width="1"/>
<rect x="266.4" y="354.1" width="7.9" height="77.3" fill="#bdbdbd" stroke="#555" stroke-width="0.8"/>
<rect x="278.1" y="356.5" width="7.8" height="74.9" fill="#bdbdbd" stroke="#555" stroke-width="0.8"/>
<rect x="290.2" y="399" width="7.7" height="32.4" fill="#bdbdbd" stroke="#555" stroke-width="0.8"/>
<rect x="313.5" y="411.2" width="7.8" height="20.2" fill="#fff" stroke="#777" stroke-width="0.8"/>
<polyline points="247.2,340.7 247.2,337.3 294.5,337.3 294.5,377" fill="none" stroke="#9a9a9a" stroke-width="0.9" stroke-linejoin="round"/>
<text x="287.9" y="386.6" font-size="6.3" text-anchor="start" fill="#8a8a8a" color="#8a8a8a" transform="translate(287.9 386.6) scale(1 1.06) translate(-287.9 -386.6)"><tspan font-style="italic">P</tspan>&lt;0.0001</text>
<circle cx="245.7" cy="349.4" r="2.1" fill="#fff" stroke="#000" stroke-width="0.7"/>
<circle cx="248.8" cy="349.4" r="2.1" fill="#fff" stroke="#000" stroke-width="0.7"/>
<circle cx="247" cy="356.5" r="2.1" fill="#fff" stroke="#000" stroke-width="0.7"/>
<circle cx="245.5" cy="359.3" r="2.1" fill="#fff" stroke="#000" stroke-width="0.7"/>
<circle cx="250.5" cy="359.3" r="2.1" fill="#fff" stroke="#000" stroke-width="0.7"/>
<circle cx="247" cy="365.6" r="2.1" fill="#fff" stroke="#000" stroke-width="0.7"/>
<circle cx="268.5" cy="352.5" r="2.1" fill="#fff" stroke="#444" stroke-width="0.7"/>
<circle cx="271.5" cy="354.5" r="2.1" fill="#fff" stroke="#444" stroke-width="0.7"/>
<circle cx="270" cy="357.5" r="2.1" fill="#fff" stroke="#444" stroke-width="0.7"/>
<circle cx="268.2" cy="360" r="2.1" fill="#fff" stroke="#444" stroke-width="0.7"/>
<circle cx="272.3" cy="359" r="2.1" fill="#fff" stroke="#444" stroke-width="0.7"/>
<circle cx="270.2" cy="362.5" r="2.1" fill="#fff" stroke="#444" stroke-width="0.7"/>
<circle cx="282" cy="352.5" r="2.1" fill="#fff" stroke="#444" stroke-width="0.7"/>
<circle cx="280.2" cy="357" r="2.1" fill="#fff" stroke="#444" stroke-width="0.7"/>
<circle cx="284.2" cy="358" r="2.1" fill="#fff" stroke="#444" stroke-width="0.7"/>
<circle cx="282" cy="361" r="2.1" fill="#fff" stroke="#444" stroke-width="0.7"/>
<circle cx="280.8" cy="364" r="2.1" fill="#fff" stroke="#444" stroke-width="0.7"/>
<circle cx="282.6" cy="366" r="2.1" fill="#fff" stroke="#444" stroke-width="0.7"/>
<circle cx="293.9" cy="392.5" r="2.3" fill="#fff" stroke="#444" stroke-width="0.7"/>
<circle cx="293.6" cy="398" r="2.3" fill="#fff" stroke="#444" stroke-width="0.7"/>
<circle cx="296.5" cy="397.5" r="2.3" fill="#fff" stroke="#444" stroke-width="0.7"/>
<circle cx="295" cy="399.5" r="2.3" fill="#fff" stroke="#444" stroke-width="0.7"/>
<circle cx="294.4" cy="407.3" r="2.3" fill="#fff" stroke="#444" stroke-width="0.7"/>
<circle cx="317.3" cy="405.4" r="2.3" fill="#fff" stroke="#555" stroke-width="0.7"/>
<circle cx="319.6" cy="407.5" r="2.3" fill="#fff" stroke="#555" stroke-width="0.7"/>
<circle cx="316.8" cy="410.8" r="2.3" fill="#fff" stroke="#555" stroke-width="0.7"/>
<circle cx="317.2" cy="414.8" r="2.3" fill="#fff" stroke="#555" stroke-width="0.7"/>
<circle cx="317.3" cy="423.6" r="2.3" fill="#fff" stroke="#555" stroke-width="0.7"/>
<text x="248.1" y="439.6" font-size="10" text-anchor="end" fill="#1e1e1e" color="#1e1e1e" transform="rotate(-45 248.1 439.6) translate(248.1 439.6) scale(1 1.06) translate(-248.1 -439.6)">No drug</text>
<text x="270.5" y="440" font-size="10" text-anchor="end" fill="#1e1e1e" color="#1e1e1e" transform="rotate(-45 270.5 440) translate(270.5 440) scale(1 1.06) translate(-270.5 -440)">0.5 nM</text>
<text x="283.3" y="440" font-size="10" text-anchor="end" fill="#1e1e1e" color="#1e1e1e" transform="rotate(-45 283.3 440) translate(283.3 440) scale(1 1.06) translate(-283.3 -440)">5 nM</text>
<text x="296.7" y="440" font-size="10" text-anchor="end" fill="#1e1e1e" color="#1e1e1e" transform="rotate(-45 296.7 440) translate(296.7 440) scale(1 1.06) translate(-296.7 -440)">50 nM</text>
<text x="321.5" y="440" font-size="10" text-anchor="end" fill="#1e1e1e" color="#1e1e1e" transform="rotate(-45 321.5 440) translate(321.5 440) scale(1 1.06) translate(-321.5 -440)">No virus</text>
<line x1="233.7" y1="461.3" x2="287.9" y2="461.3" stroke="#1e1e1e" stroke-width="0.9" stroke-linecap="butt"/>
<text x="260.9" y="473.2" font-size="9.6" text-anchor="middle" fill="#1e1e1e" color="#1e1e1e" transform="translate(260.9 473.2) scale(1 1.06) translate(-260.9 -473.2)">Plitidepsin</text>
<text x="188.5" y="381.85" font-size="9.59" text-anchor="middle" fill="#1e1e1e" color="#1e1e1e" transform="rotate(-90 188.5 381.85) translate(188.5 381.85) scale(1 1.06) translate(-188.5 -381.85)">icSARS-CoV-2-nLuc</text>
<text x="198.9" y="382" font-size="9.5" text-anchor="middle" fill="#1e1e1e" color="#1e1e1e" transform="rotate(-90 198.9 382) translate(198.9 382) scale(1 1.06) translate(-198.9 -382)">(RLUs)</text>
</svg>
</body></html>
